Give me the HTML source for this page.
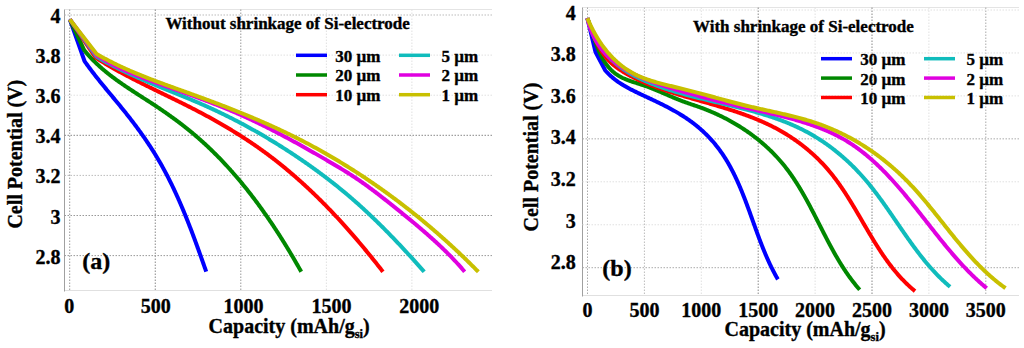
<!DOCTYPE html>
<html><head><meta charset="utf-8"><style>
html,body{margin:0;padding:0;background:#fff;width:1024px;height:348px;overflow:hidden}
svg{display:block}
text{font-family:"Liberation Serif",serif;font-weight:bold;fill:#000;stroke:#000;stroke-width:0.35px}
.tk{font-size:20px}
.ttl{font-size:17px}
.lg{font-size:17px}
.tag{font-size:24px}
.axt{font-size:20px}
</style></head><body>
<svg width="1024" height="348" viewBox="0 0 1024 348">
<rect width="1024" height="348" fill="#fff"/>
<line x1="64.5" y1="9.5" x2="492" y2="9.5" stroke="#e4e4e4" stroke-width="1"/>
<line x1="64.5" y1="290.5" x2="492" y2="290.5" stroke="#e0e0e0" stroke-width="1"/>
<line x1="64.5" y1="9.5" x2="64.5" y2="291.5" stroke="#a0a0a0" stroke-width="1"/>
<line x1="69.70" y1="9.5" x2="69.70" y2="290.5" stroke="#999" stroke-width="1" stroke-dasharray="1.5,1.5"/>
<line x1="155.25" y1="9.5" x2="155.25" y2="290.5" stroke="#888" stroke-width="1" stroke-dasharray="1.5,1.5"/>
<line x1="240.80" y1="9.5" x2="240.80" y2="290.5" stroke="#999" stroke-width="1" stroke-dasharray="1.5,1.5"/>
<line x1="326.35" y1="9.5" x2="326.35" y2="290.5" stroke="#e0e0e0" stroke-width="1" stroke-dasharray="1.5,1.5"/>
<line x1="411.90" y1="9.5" x2="411.90" y2="290.5" stroke="#e0e0e0" stroke-width="1" stroke-dasharray="1.5,1.5"/>
<line x1="64.5" y1="15.00" x2="492" y2="15.00" stroke="#bbb" stroke-width="1" stroke-dasharray="1.5,1.5"/>
<line x1="64.5" y1="55.10" x2="492" y2="55.10" stroke="#e0e0e0" stroke-width="1" stroke-dasharray="1.5,1.5"/>
<line x1="64.5" y1="95.20" x2="492" y2="95.20" stroke="#e0e0e0" stroke-width="1" stroke-dasharray="1.5,1.5"/>
<line x1="64.5" y1="135.30" x2="492" y2="135.30" stroke="#888" stroke-width="1" stroke-dasharray="1.5,1.5"/>
<line x1="64.5" y1="175.40" x2="492" y2="175.40" stroke="#bbb" stroke-width="1" stroke-dasharray="1.5,1.5"/>
<line x1="64.5" y1="215.50" x2="492" y2="215.50" stroke="#999" stroke-width="1" stroke-dasharray="1.5,1.5"/>
<line x1="64.5" y1="255.60" x2="492" y2="255.60" stroke="#999" stroke-width="1" stroke-dasharray="1.5,1.5"/>
<text x="60.4" y="22.50" class="tk" text-anchor="end">4</text>
<text x="60.4" y="62.73" class="tk" text-anchor="end">3.8</text>
<text x="60.4" y="102.96" class="tk" text-anchor="end">3.6</text>
<text x="60.4" y="143.19" class="tk" text-anchor="end">3.4</text>
<text x="60.4" y="183.42" class="tk" text-anchor="end">3.2</text>
<text x="60.4" y="223.65" class="tk" text-anchor="end">3</text>
<text x="60.4" y="263.88" class="tk" text-anchor="end">2.8</text>
<text x="69.25" y="313.2" class="tk" text-anchor="middle">0</text>
<text x="155.75" y="313.2" class="tk" text-anchor="middle">500</text>
<text x="243.60" y="313.2" class="tk" text-anchor="middle">1000</text>
<text x="331.40" y="313.2" class="tk" text-anchor="middle">1500</text>
<text x="419.20" y="313.2" class="tk" text-anchor="middle">2000</text>
<text x="165.4" y="28.8" class="ttl">Without shrinkage of Si-electrode</text>
<line x1="296" y1="55.3" x2="327" y2="55.3" stroke="#0000ff" stroke-width="3.5"/>
<line x1="296" y1="75.0" x2="327" y2="75.0" stroke="#008800" stroke-width="3.5"/>
<line x1="296" y1="94.69999999999999" x2="327" y2="94.69999999999999" stroke="#ff0000" stroke-width="3.5"/>
<line x1="399" y1="55.3" x2="430" y2="55.3" stroke="#10bcbc" stroke-width="3.5"/>
<line x1="399" y1="75.0" x2="430" y2="75.0" stroke="#e000e0" stroke-width="3.5"/>
<line x1="399" y1="94.69999999999999" x2="430" y2="94.69999999999999" stroke="#c8c000" stroke-width="3.5"/>
<text x="335.2" y="61.699999999999996" class="lg">30 µm</text>
<text x="335.2" y="81.4" class="lg">20 µm</text>
<text x="335.2" y="101.1" class="lg">10 µm</text>
<text x="441.4" y="61.699999999999996" class="lg">5 µm</text>
<text x="441.4" y="81.4" class="lg">2 µm</text>
<text x="441.4" y="101.1" class="lg">1 µm</text>
<path d="M69.80,19.40 L84.59,61.21 L85.16,62.03 L85.74,62.85 L86.32,63.66 L86.90,64.47 L87.49,65.28 L88.08,66.09 L88.67,66.90 L89.26,67.70 L89.86,68.50 L90.46,69.30 L91.06,70.10 L91.66,70.90 L92.27,71.70 L92.88,72.49 L93.49,73.28 L94.10,74.07 L94.71,74.86 L95.33,75.65 L95.94,76.44 L96.56,77.23 L97.18,78.01 L97.81,78.79 L98.43,79.57 L99.05,80.36 L99.68,81.14 L100.31,81.91 L100.94,82.69 L101.57,83.47 L102.20,84.24 L102.83,85.02 L103.46,85.79 L104.09,86.57 L104.73,87.34 L105.36,88.11 L106.00,88.89 L106.63,89.66 L107.27,90.43 L107.91,91.20 L108.55,91.97 L109.18,92.74 L109.82,93.51 L110.46,94.28 L111.10,95.05 L111.74,95.82 L112.38,96.59 L113.01,97.36 L113.65,98.13 L114.29,98.90 L114.93,99.67 L115.57,100.44 L116.21,101.21 L116.84,101.98 L117.48,102.75 L118.11,103.52 L118.75,104.29 L119.38,105.07 L120.02,105.84 L120.65,106.61 L121.28,107.39 L121.92,108.16 L122.55,108.94 L123.18,109.72 L123.80,110.50 L124.43,111.27 L125.06,112.05 L125.68,112.84 L126.30,113.62 L126.92,114.40 L127.54,115.19 L128.16,115.97 L128.78,116.76 L129.40,117.55 L130.01,118.34 L130.62,119.13 L131.23,119.92 L131.84,120.71 L132.45,121.51 L133.06,122.30 L133.66,123.10 L134.26,123.90 L134.87,124.69 L135.46,125.49 L136.06,126.30 L136.66,127.10 L137.25,127.90 L137.84,128.71 L138.44,129.52 L139.02,130.32 L139.61,131.13 L140.20,131.95 L140.78,132.76 L141.36,133.57 L141.94,134.39 L142.52,135.20 L143.09,136.02 L143.66,136.84 L144.24,137.66 L144.80,138.48 L145.37,139.31 L145.94,140.13 L146.50,140.96 L147.06,141.79 L147.62,142.62 L148.17,143.45 L148.73,144.28 L149.28,145.12 L149.83,145.95 L150.37,146.79 L150.92,147.63 L151.46,148.47 L152.00,149.31 L152.54,150.15 L153.07,151.00 L153.61,151.84 L154.14,152.69 L154.66,153.54 L155.19,154.39 L155.71,155.25 L156.23,156.10 L156.75,156.96 L157.26,157.81 L157.77,158.67 L158.28,159.53 L158.79,160.40 L159.29,161.26 L159.80,162.12 L160.29,162.99 L160.79,163.86 L161.28,164.73 L161.77,165.60 L162.26,166.47 L162.75,167.35 L163.23,168.22 L163.71,169.10 L164.19,169.98 L164.66,170.86 L165.13,171.74 L165.60,172.62 L166.07,173.51 L166.54,174.39 L167.00,175.28 L167.46,176.17 L167.92,177.06 L168.37,177.95 L168.83,178.84 L169.28,179.73 L169.73,180.62 L170.17,181.52 L170.62,182.41 L171.06,183.31 L171.50,184.21 L171.94,185.11 L172.37,186.01 L172.81,186.91 L173.24,187.81 L173.67,188.72 L174.09,189.62 L174.52,190.52 L174.94,191.43 L175.36,192.34 L175.78,193.25 L176.20,194.15 L176.62,195.06 L177.03,195.97 L177.44,196.89 L177.85,197.80 L178.26,198.71 L178.66,199.63 L179.07,200.54 L179.47,201.46 L179.87,202.37 L180.27,203.29 L180.67,204.21 L181.06,205.13 L181.45,206.04 L181.85,206.96 L182.24,207.89 L182.63,208.81 L183.01,209.73 L183.40,210.65 L183.78,211.57 L184.17,212.50 L184.55,213.42 L184.93,214.35 L185.30,215.27 L185.68,216.20 L186.06,217.13 L186.43,218.06 L186.80,218.98 L187.17,219.91 L187.54,220.84 L187.91,221.77 L188.28,222.70 L188.64,223.63 L189.01,224.56 L189.37,225.49 L189.74,226.43 L190.10,227.36 L190.46,228.29 L190.82,229.22 L191.17,230.16 L191.53,231.09 L191.89,232.03 L192.24,232.96 L192.59,233.90 L192.95,234.83 L193.30,235.77 L193.65,236.71 L194.00,237.64 L194.35,238.58 L194.70,239.52 L195.04,240.46 L195.39,241.39 L195.73,242.33 L196.08,243.27 L196.42,244.21 L196.77,245.15 L197.11,246.09 L197.45,247.03 L197.79,247.97 L198.13,248.91 L198.47,249.85 L198.81,250.79 L199.15,251.73 L199.49,252.67 L199.83,253.61 L200.16,254.55 L200.50,255.50 L200.84,256.44 L201.17,257.38 L201.51,258.32 L201.84,259.26 L202.18,260.21 L202.51,261.15 L202.85,262.09 L203.18,263.03 L203.51,263.98 L203.85,264.92 L204.18,265.86 L204.51,266.80 L204.85,267.75 L205.18,268.69 L205.51,269.63 L205.84,270.58 L206.18,271.52 L206.24,271.70" fill="none" stroke="#0000ff" stroke-width="4.0" stroke-linejoin="round" stroke-linecap="butt"/>
<path d="M69.80,19.40 L84.29,50.32 L84.92,51.09 L85.55,51.87 L86.19,52.63 L86.84,53.39 L87.49,54.15 L88.15,54.90 L88.82,55.65 L89.49,56.39 L90.17,57.13 L90.85,57.86 L91.54,58.58 L92.23,59.31 L92.93,60.02 L93.63,60.73 L94.34,61.44 L95.05,62.14 L95.77,62.84 L96.49,63.53 L97.22,64.21 L97.95,64.90 L98.68,65.57 L99.42,66.25 L100.17,66.91 L100.92,67.58 L101.67,68.24 L102.42,68.89 L103.18,69.54 L103.95,70.19 L104.71,70.83 L105.48,71.47 L106.26,72.10 L107.03,72.73 L107.81,73.36 L108.60,73.98 L109.38,74.60 L110.17,75.21 L110.96,75.82 L111.76,76.43 L112.56,77.03 L113.36,77.64 L114.16,78.23 L114.96,78.83 L115.77,79.42 L116.58,80.01 L117.39,80.59 L118.20,81.17 L119.01,81.75 L119.83,82.33 L120.65,82.91 L121.47,83.48 L122.29,84.05 L123.12,84.61 L123.94,85.18 L124.77,85.74 L125.59,86.30 L126.42,86.86 L127.25,87.42 L128.08,87.98 L128.92,88.53 L129.75,89.08 L130.59,89.63 L131.42,90.18 L132.26,90.73 L133.09,91.28 L133.93,91.83 L134.77,92.37 L135.61,92.92 L136.45,93.46 L137.29,94.00 L138.13,94.55 L138.97,95.09 L139.81,95.63 L140.65,96.17 L141.49,96.71 L142.33,97.25 L143.17,97.80 L144.01,98.34 L144.85,98.88 L145.69,99.42 L146.53,99.96 L147.37,100.51 L148.21,101.05 L149.05,101.59 L149.89,102.14 L150.73,102.68 L151.57,103.23 L152.40,103.78 L153.24,104.32 L154.07,104.87 L154.91,105.43 L155.74,105.98 L156.58,106.53 L157.41,107.09 L158.24,107.64 L159.07,108.20 L159.90,108.76 L160.72,109.32 L161.55,109.89 L162.38,110.45 L163.20,111.02 L164.02,111.58 L164.85,112.15 L165.67,112.72 L166.49,113.30 L167.30,113.87 L168.12,114.45 L168.94,115.03 L169.75,115.60 L170.57,116.19 L171.38,116.77 L172.19,117.35 L173.00,117.94 L173.81,118.53 L174.62,119.12 L175.42,119.71 L176.22,120.31 L177.03,120.90 L177.83,121.50 L178.63,122.10 L179.43,122.71 L180.22,123.31 L181.02,123.92 L181.81,124.53 L182.60,125.14 L183.39,125.75 L184.18,126.36 L184.97,126.98 L185.75,127.60 L186.54,128.22 L187.32,128.85 L188.10,129.47 L188.88,130.10 L189.65,130.73 L190.43,131.36 L191.20,132.00 L191.97,132.64 L192.74,133.28 L193.50,133.92 L194.27,134.56 L195.03,135.21 L195.79,135.86 L196.55,136.51 L197.31,137.16 L198.06,137.82 L198.81,138.48 L199.57,139.14 L200.31,139.80 L201.06,140.47 L201.81,141.14 L202.55,141.80 L203.29,142.48 L204.03,143.15 L204.76,143.83 L205.50,144.50 L206.23,145.18 L206.96,145.87 L207.69,146.55 L208.42,147.24 L209.15,147.93 L209.87,148.62 L210.59,149.31 L211.31,150.00 L212.03,150.70 L212.74,151.40 L213.46,152.10 L214.17,152.80 L214.88,153.51 L215.59,154.21 L216.29,154.92 L217.00,155.63 L217.70,156.34 L218.40,157.06 L219.10,157.77 L219.79,158.49 L220.49,159.21 L221.18,159.93 L221.87,160.65 L222.56,161.38 L223.25,162.11 L223.93,162.83 L224.62,163.56 L225.30,164.30 L225.98,165.03 L226.66,165.76 L227.33,166.50 L228.01,167.24 L228.68,167.98 L229.35,168.72 L230.02,169.46 L230.68,170.21 L231.35,170.96 L232.01,171.70 L232.67,172.45 L233.33,173.21 L233.99,173.96 L234.65,174.71 L235.30,175.47 L235.96,176.23 L236.61,176.99 L237.26,177.75 L237.90,178.51 L238.55,179.27 L239.19,180.04 L239.83,180.80 L240.48,181.57 L241.11,182.34 L241.75,183.11 L242.39,183.89 L243.02,184.66 L243.65,185.43 L244.28,186.21 L244.91,186.99 L245.54,187.77 L246.16,188.55 L246.79,189.33 L247.41,190.11 L248.03,190.90 L248.65,191.68 L249.26,192.47 L249.88,193.26 L250.49,194.05 L251.10,194.84 L251.71,195.63 L252.32,196.42 L252.93,197.22 L253.54,198.01 L254.14,198.81 L254.74,199.61 L255.34,200.41 L255.94,201.21 L256.54,202.01 L257.14,202.81 L257.73,203.62 L258.32,204.42 L258.91,205.23 L259.50,206.04 L260.09,206.85 L260.68,207.66 L261.26,208.47 L261.85,209.28 L262.43,210.09 L263.01,210.91 L263.59,211.72 L264.17,212.54 L264.74,213.35 L265.32,214.17 L265.89,214.99 L266.47,215.81 L267.04,216.63 L267.60,217.46 L268.17,218.28 L268.74,219.10 L269.30,219.93 L269.87,220.76 L270.43,221.58 L270.99,222.41 L271.55,223.24 L272.10,224.07 L272.66,224.90 L273.22,225.73 L273.77,226.57 L274.32,227.40 L274.87,228.23 L275.42,229.07 L275.97,229.91 L276.52,230.74 L277.06,231.58 L277.61,232.42 L278.15,233.26 L278.69,234.10 L279.23,234.94 L279.77,235.79 L280.31,236.63 L280.84,237.47 L281.38,238.32 L281.91,239.16 L282.44,240.01 L282.97,240.86 L283.50,241.71 L284.03,242.56 L284.56,243.41 L285.09,244.26 L285.61,245.11 L286.13,245.96 L286.66,246.81 L287.18,247.67 L287.70,248.52 L288.22,249.37 L288.73,250.23 L289.25,251.09 L289.76,251.94 L290.28,252.80 L290.79,253.66 L291.30,254.52 L291.81,255.38 L292.32,256.24 L292.83,257.10 L293.34,257.96 L293.84,258.83 L294.35,259.69 L294.85,260.55 L295.35,261.42 L295.85,262.28 L296.35,263.15 L296.85,264.02 L297.35,264.88 L297.85,265.75 L298.34,266.62 L298.84,267.49 L299.33,268.36 L299.83,269.23 L300.32,270.10 L300.81,270.97 L301.21,271.68" fill="none" stroke="#008800" stroke-width="4.0" stroke-linejoin="round" stroke-linecap="butt"/>
<path d="M69.80,19.40 L95.60,57.61 L96.44,58.15 L97.28,58.69 L98.13,59.23 L98.97,59.76 L99.82,60.29 L100.67,60.82 L101.52,61.34 L102.37,61.87 L103.23,62.39 L104.08,62.91 L104.94,63.42 L105.80,63.94 L106.66,64.45 L107.52,64.96 L108.38,65.46 L109.24,65.97 L110.10,66.47 L110.97,66.97 L111.84,67.47 L112.70,67.97 L113.57,68.46 L114.44,68.96 L115.32,69.45 L116.19,69.94 L117.06,70.42 L117.94,70.91 L118.81,71.39 L119.69,71.87 L120.56,72.35 L121.44,72.83 L122.32,73.31 L123.20,73.78 L124.08,74.26 L124.96,74.73 L125.85,75.20 L126.73,75.67 L127.61,76.13 L128.50,76.60 L129.39,77.06 L130.27,77.53 L131.16,77.99 L132.05,78.45 L132.93,78.91 L133.82,79.37 L134.71,79.82 L135.60,80.28 L136.49,80.73 L137.39,81.18 L138.28,81.64 L139.17,82.09 L140.06,82.54 L140.96,82.99 L141.85,83.44 L142.74,83.88 L143.64,84.33 L144.53,84.78 L145.43,85.22 L146.33,85.67 L147.22,86.11 L148.12,86.55 L149.02,86.99 L149.91,87.44 L150.81,87.88 L151.71,88.32 L152.61,88.76 L153.50,89.20 L154.40,89.64 L155.30,90.08 L156.20,90.51 L157.10,90.95 L158.00,91.39 L158.90,91.83 L159.80,92.27 L160.69,92.70 L161.59,93.14 L162.49,93.58 L163.39,94.02 L164.29,94.45 L165.19,94.89 L166.09,95.33 L166.99,95.76 L167.89,96.20 L168.79,96.64 L169.69,97.08 L170.59,97.52 L171.48,97.96 L172.38,98.39 L173.28,98.83 L174.18,99.27 L175.08,99.71 L175.98,100.15 L176.87,100.60 L177.77,101.04 L178.67,101.48 L179.56,101.92 L180.46,102.37 L181.36,102.81 L182.25,103.26 L183.15,103.70 L184.04,104.15 L184.93,104.60 L185.83,105.04 L186.72,105.49 L187.61,105.94 L188.51,106.39 L189.40,106.85 L190.29,107.30 L191.18,107.75 L192.07,108.21 L192.96,108.67 L193.85,109.13 L194.74,109.58 L195.63,110.04 L196.51,110.51 L197.40,110.97 L198.29,111.43 L199.17,111.90 L200.05,112.37 L200.94,112.83 L201.82,113.30 L202.70,113.77 L203.59,114.24 L204.47,114.72 L205.35,115.19 L206.23,115.67 L207.11,116.14 L207.98,116.62 L208.86,117.10 L209.74,117.58 L210.61,118.07 L211.49,118.55 L212.36,119.04 L213.24,119.52 L214.11,120.01 L214.98,120.50 L215.85,120.99 L216.72,121.48 L217.59,121.98 L218.46,122.47 L219.33,122.97 L220.20,123.47 L221.06,123.97 L221.93,124.47 L222.79,124.97 L223.66,125.47 L224.52,125.98 L225.38,126.49 L226.24,127.00 L227.10,127.51 L227.96,128.02 L228.82,128.53 L229.68,129.05 L230.53,129.56 L231.39,130.08 L232.24,130.60 L233.10,131.12 L233.95,131.65 L234.80,132.17 L235.65,132.70 L236.50,133.22 L237.35,133.75 L238.19,134.29 L239.04,134.82 L239.89,135.35 L240.73,135.89 L241.57,136.43 L242.41,136.97 L243.25,137.51 L244.09,138.05 L244.93,138.60 L245.77,139.14 L246.61,139.69 L247.44,140.24 L248.28,140.79 L249.11,141.35 L249.94,141.90 L250.77,142.46 L251.60,143.02 L252.43,143.58 L253.25,144.14 L254.08,144.71 L254.90,145.27 L255.73,145.84 L256.55,146.41 L257.37,146.98 L258.19,147.56 L259.01,148.13 L259.82,148.71 L260.64,149.29 L261.45,149.87 L262.26,150.45 L263.07,151.04 L263.88,151.63 L264.69,152.21 L265.50,152.81 L266.30,153.40 L267.11,153.99 L267.91,154.59 L268.71,155.19 L269.51,155.79 L270.31,156.39 L271.11,156.99 L271.90,157.60 L272.70,158.21 L273.49,158.82 L274.28,159.43 L275.07,160.04 L275.86,160.66 L276.65,161.27 L277.43,161.89 L278.22,162.51 L279.00,163.13 L279.78,163.76 L280.56,164.38 L281.34,165.01 L282.12,165.64 L282.90,166.27 L283.67,166.90 L284.44,167.54 L285.22,168.17 L285.99,168.81 L286.75,169.45 L287.52,170.09 L288.29,170.73 L289.05,171.37 L289.82,172.02 L290.58,172.67 L291.34,173.31 L292.10,173.97 L292.86,174.62 L293.62,175.27 L294.37,175.93 L295.13,176.58 L295.88,177.24 L296.63,177.90 L297.38,178.56 L298.13,179.22 L298.88,179.89 L299.62,180.55 L300.37,181.22 L301.11,181.89 L301.86,182.56 L302.60,183.23 L303.34,183.90 L304.07,184.58 L304.81,185.25 L305.55,185.93 L306.28,186.61 L307.01,187.29 L307.75,187.97 L308.48,188.65 L309.21,189.34 L309.93,190.02 L310.66,190.71 L311.39,191.40 L312.11,192.09 L312.83,192.78 L313.56,193.47 L314.28,194.17 L314.99,194.86 L315.71,195.56 L316.43,196.25 L317.14,196.95 L317.86,197.65 L318.57,198.35 L319.28,199.06 L319.99,199.76 L320.70,200.47 L321.41,201.17 L322.12,201.88 L322.82,202.59 L323.53,203.30 L324.23,204.01 L324.93,204.72 L325.63,205.43 L326.33,206.15 L327.03,206.87 L327.73,207.58 L328.42,208.30 L329.12,209.02 L329.81,209.74 L330.50,210.46 L331.20,211.18 L331.89,211.91 L332.57,212.63 L333.26,213.36 L333.95,214.09 L334.63,214.81 L335.32,215.54 L336.00,216.27 L336.68,217.00 L337.36,217.74 L338.04,218.47 L338.72,219.20 L339.40,219.94 L340.08,220.68 L340.75,221.41 L341.43,222.15 L342.10,222.89 L342.77,223.63 L343.44,224.37 L344.11,225.12 L344.78,225.86 L345.45,226.60 L346.12,227.35 L346.78,228.10 L347.45,228.84 L348.11,229.59 L348.77,230.34 L349.43,231.09 L350.09,231.84 L350.75,232.59 L351.41,233.35 L352.07,234.10 L352.73,234.85 L353.38,235.61 L354.04,236.37 L354.69,237.12 L355.34,237.88 L355.99,238.64 L356.64,239.40 L357.29,240.16 L357.94,240.92 L358.59,241.68 L359.23,242.45 L359.88,243.21 L360.52,243.97 L361.17,244.74 L361.81,245.51 L362.45,246.27 L363.09,247.04 L363.73,247.81 L364.37,248.58 L365.01,249.35 L365.65,250.12 L366.28,250.89 L366.92,251.66 L367.55,252.44 L368.18,253.21 L368.82,253.99 L369.45,254.76 L370.08,255.54 L370.71,256.31 L371.34,257.09 L371.97,257.87 L372.59,258.65 L373.22,259.43 L373.84,260.21 L374.47,260.99 L375.09,261.77 L375.72,262.55 L376.34,263.34 L376.96,264.12 L377.58,264.90 L378.20,265.69 L378.82,266.47 L379.44,267.26 L380.05,268.05 L380.67,268.84 L381.28,269.62 L381.90,270.41 L382.51,271.20 L382.97,271.80" fill="none" stroke="#ff0000" stroke-width="4.0" stroke-linejoin="round" stroke-linecap="butt"/>
<path d="M69.80,19.40 L96.20,56.40 L97.06,56.92 L97.91,57.43 L98.77,57.94 L99.64,58.45 L100.50,58.95 L101.37,59.45 L102.23,59.95 L103.10,60.45 L103.97,60.94 L104.84,61.43 L105.72,61.92 L106.59,62.40 L107.47,62.88 L108.35,63.36 L109.23,63.83 L110.11,64.30 L110.99,64.77 L111.88,65.24 L112.76,65.70 L113.65,66.17 L114.54,66.62 L115.43,67.08 L116.32,67.53 L117.21,67.99 L118.11,68.43 L119.00,68.88 L119.90,69.32 L120.79,69.77 L121.69,70.20 L122.59,70.64 L123.49,71.07 L124.39,71.51 L125.30,71.94 L126.20,72.36 L127.11,72.79 L128.01,73.21 L128.92,73.63 L129.83,74.05 L130.74,74.47 L131.65,74.88 L132.56,75.30 L133.47,75.71 L134.38,76.12 L135.29,76.53 L136.21,76.93 L137.12,77.34 L138.04,77.74 L138.95,78.14 L139.87,78.54 L140.79,78.94 L141.71,79.33 L142.63,79.73 L143.54,80.12 L144.46,80.51 L145.38,80.91 L146.31,81.30 L147.23,81.68 L148.15,82.07 L149.07,82.46 L149.99,82.84 L150.92,83.23 L151.84,83.61 L152.76,83.99 L153.69,84.38 L154.61,84.76 L155.54,85.14 L156.46,85.52 L157.39,85.90 L158.31,86.27 L159.24,86.65 L160.17,87.03 L161.09,87.41 L162.02,87.78 L162.95,88.16 L163.87,88.54 L164.80,88.91 L165.73,89.29 L166.65,89.66 L167.58,90.04 L168.51,90.41 L169.43,90.79 L170.36,91.16 L171.29,91.54 L172.21,91.91 L173.14,92.29 L174.07,92.67 L174.99,93.04 L175.92,93.42 L176.85,93.79 L177.77,94.17 L178.70,94.55 L179.63,94.93 L180.55,95.30 L181.48,95.68 L182.40,96.06 L183.33,96.44 L184.25,96.82 L185.18,97.20 L186.10,97.59 L187.02,97.97 L187.95,98.35 L188.87,98.74 L189.79,99.12 L190.72,99.51 L191.64,99.90 L192.56,100.28 L193.48,100.67 L194.40,101.06 L195.32,101.46 L196.24,101.85 L197.16,102.24 L198.08,102.64 L199.00,103.03 L199.91,103.43 L200.83,103.83 L201.75,104.23 L202.66,104.64 L203.58,105.04 L204.49,105.44 L205.40,105.85 L206.32,106.26 L207.23,106.67 L208.14,107.08 L209.05,107.50 L209.96,107.91 L210.87,108.33 L211.78,108.75 L212.69,109.17 L213.59,109.59 L214.50,110.01 L215.40,110.43 L216.31,110.86 L217.21,111.29 L218.12,111.72 L219.02,112.15 L219.92,112.58 L220.82,113.01 L221.72,113.45 L222.62,113.89 L223.52,114.32 L224.42,114.76 L225.31,115.21 L226.21,115.65 L227.11,116.09 L228.00,116.54 L228.90,116.99 L229.79,117.44 L230.68,117.89 L231.57,118.34 L232.47,118.79 L233.36,119.25 L234.25,119.70 L235.13,120.16 L236.02,120.62 L236.91,121.08 L237.80,121.55 L238.68,122.01 L239.57,122.48 L240.45,122.94 L241.34,123.41 L242.22,123.88 L243.10,124.35 L243.98,124.83 L244.86,125.30 L245.74,125.78 L246.62,126.25 L247.50,126.73 L248.37,127.21 L249.25,127.69 L250.13,128.18 L251.00,128.66 L251.88,129.15 L252.75,129.63 L253.62,130.12 L254.49,130.61 L255.36,131.11 L256.23,131.60 L257.10,132.09 L257.97,132.59 L258.84,133.09 L259.71,133.58 L260.57,134.08 L261.44,134.59 L262.30,135.09 L263.16,135.59 L264.03,136.10 L264.89,136.61 L265.75,137.11 L266.61,137.62 L267.47,138.14 L268.33,138.65 L269.19,139.16 L270.04,139.68 L270.90,140.19 L271.75,140.71 L272.61,141.23 L273.46,141.75 L274.32,142.27 L275.17,142.80 L276.02,143.32 L276.87,143.85 L277.72,144.38 L278.57,144.90 L279.42,145.43 L280.26,145.97 L281.11,146.50 L281.96,147.03 L282.80,147.57 L283.64,148.10 L284.49,148.64 L285.33,149.18 L286.17,149.72 L287.01,150.26 L287.85,150.81 L288.69,151.35 L289.53,151.90 L290.36,152.44 L291.20,152.99 L292.04,153.54 L292.87,154.09 L293.70,154.64 L294.54,155.20 L295.37,155.75 L296.20,156.31 L297.03,156.87 L297.86,157.42 L298.69,157.98 L299.52,158.54 L300.34,159.11 L301.17,159.67 L302.00,160.24 L302.82,160.80 L303.64,161.37 L304.47,161.94 L305.29,162.51 L306.11,163.08 L306.93,163.65 L307.75,164.23 L308.56,164.80 L309.38,165.38 L310.20,165.96 L311.01,166.54 L311.83,167.12 L312.64,167.70 L313.45,168.28 L314.26,168.87 L315.07,169.46 L315.88,170.04 L316.69,170.63 L317.50,171.22 L318.30,171.81 L319.11,172.41 L319.91,173.00 L320.71,173.60 L321.52,174.19 L322.32,174.79 L323.12,175.39 L323.92,175.99 L324.71,176.60 L325.51,177.20 L326.31,177.81 L327.10,178.41 L327.90,179.02 L328.69,179.63 L329.48,180.24 L330.27,180.86 L331.06,181.47 L331.85,182.09 L332.63,182.70 L333.42,183.32 L334.20,183.94 L334.99,184.56 L335.77,185.18 L336.55,185.81 L337.33,186.43 L338.11,187.06 L338.89,187.69 L339.67,188.32 L340.44,188.95 L341.22,189.58 L341.99,190.22 L342.76,190.85 L343.53,191.49 L344.30,192.13 L345.07,192.77 L345.84,193.41 L346.60,194.05 L347.37,194.70 L348.13,195.34 L348.89,195.99 L349.65,196.64 L350.41,197.29 L351.17,197.94 L351.93,198.59 L352.69,199.25 L353.44,199.91 L354.19,200.56 L354.95,201.22 L355.70,201.88 L356.45,202.54 L357.19,203.21 L357.94,203.87 L358.69,204.54 L359.43,205.21 L360.17,205.88 L360.92,206.55 L361.66,207.22 L362.40,207.89 L363.13,208.57 L363.87,209.24 L364.61,209.92 L365.34,210.60 L366.07,211.28 L366.81,211.96 L367.54,212.64 L368.27,213.33 L368.99,214.01 L369.72,214.70 L370.45,215.39 L371.17,216.08 L371.90,216.77 L372.62,217.46 L373.34,218.15 L374.06,218.84 L374.78,219.54 L375.50,220.23 L376.22,220.93 L376.93,221.63 L377.65,222.33 L378.36,223.03 L379.08,223.73 L379.79,224.43 L380.50,225.13 L381.21,225.84 L381.92,226.54 L382.63,227.25 L383.33,227.96 L384.04,228.66 L384.74,229.37 L385.45,230.08 L386.15,230.79 L386.85,231.51 L387.55,232.22 L388.25,232.93 L388.95,233.65 L389.65,234.36 L390.35,235.08 L391.04,235.80 L391.74,236.52 L392.43,237.24 L393.13,237.96 L393.82,238.68 L394.51,239.40 L395.20,240.12 L395.89,240.85 L396.58,241.57 L397.27,242.30 L397.96,243.02 L398.65,243.75 L399.33,244.48 L400.02,245.20 L400.70,245.93 L401.39,246.66 L402.07,247.39 L402.75,248.12 L403.44,248.85 L404.12,249.59 L404.80,250.32 L405.48,251.05 L406.16,251.79 L406.83,252.52 L407.51,253.26 L408.19,253.99 L408.86,254.73 L409.54,255.47 L410.21,256.21 L410.89,256.95 L411.56,257.69 L412.23,258.42 L412.91,259.17 L413.58,259.91 L414.25,260.65 L414.92,261.39 L415.59,262.13 L416.26,262.87 L416.93,263.62 L417.60,264.36 L418.26,265.11 L418.93,265.85 L419.60,266.60 L420.26,267.34 L420.93,268.09 L421.59,268.84 L422.26,269.58 L422.92,270.33 L423.59,271.08 L424.21,271.78" fill="none" stroke="#10bcbc" stroke-width="4.0" stroke-linejoin="round" stroke-linecap="butt"/>
<path d="M69.80,19.40 L96.50,55.20 L97.34,55.74 L98.19,56.27 L99.04,56.79 L99.89,57.32 L100.75,57.84 L101.61,58.35 L102.47,58.86 L103.33,59.36 L104.20,59.86 L105.07,60.36 L105.94,60.85 L106.81,61.34 L107.69,61.82 L108.56,62.30 L109.44,62.77 L110.33,63.24 L111.21,63.71 L112.10,64.17 L112.99,64.63 L113.88,65.08 L114.77,65.53 L115.67,65.98 L116.56,66.42 L117.46,66.86 L118.36,67.29 L119.26,67.73 L120.17,68.15 L121.07,68.58 L121.98,69.00 L122.89,69.42 L123.80,69.83 L124.71,70.24 L125.62,70.65 L126.54,71.05 L127.46,71.45 L128.37,71.85 L129.29,72.25 L130.21,72.64 L131.13,73.03 L132.05,73.42 L132.98,73.80 L133.90,74.18 L134.83,74.56 L135.75,74.94 L136.68,75.31 L137.61,75.69 L138.54,76.05 L139.47,76.42 L140.40,76.79 L141.33,77.15 L142.26,77.51 L143.20,77.87 L144.13,78.23 L145.06,78.58 L146.00,78.94 L146.94,79.29 L147.87,79.64 L148.81,79.99 L149.75,80.34 L150.68,80.69 L151.62,81.03 L152.56,81.38 L153.50,81.72 L154.44,82.06 L155.38,82.40 L156.32,82.74 L157.26,83.08 L158.20,83.42 L159.14,83.76 L160.09,84.10 L161.03,84.43 L161.97,84.77 L162.91,85.10 L163.85,85.44 L164.79,85.78 L165.74,86.11 L166.68,86.45 L167.62,86.78 L168.56,87.12 L169.51,87.45 L170.45,87.79 L171.39,88.12 L172.33,88.46 L173.27,88.79 L174.22,89.13 L175.16,89.46 L176.10,89.80 L177.04,90.13 L177.98,90.47 L178.93,90.81 L179.87,91.14 L180.81,91.48 L181.75,91.82 L182.69,92.16 L183.63,92.49 L184.57,92.83 L185.51,93.17 L186.46,93.51 L187.40,93.85 L188.34,94.19 L189.28,94.53 L190.22,94.87 L191.16,95.21 L192.10,95.55 L193.04,95.90 L193.97,96.24 L194.91,96.59 L195.85,96.93 L196.79,97.28 L197.73,97.62 L198.67,97.97 L199.60,98.32 L200.54,98.67 L201.48,99.02 L202.41,99.37 L203.35,99.72 L204.29,100.07 L205.22,100.42 L206.16,100.78 L207.09,101.13 L208.03,101.49 L208.96,101.85 L209.89,102.21 L210.83,102.57 L211.76,102.93 L212.69,103.29 L213.62,103.65 L214.55,104.01 L215.49,104.38 L216.42,104.75 L217.35,105.11 L218.28,105.48 L219.20,105.85 L220.13,106.23 L221.06,106.60 L221.99,106.97 L222.91,107.35 L223.84,107.73 L224.77,108.11 L225.69,108.49 L226.61,108.87 L227.54,109.25 L228.46,109.64 L229.38,110.02 L230.30,110.41 L231.23,110.80 L232.15,111.19 L233.07,111.59 L233.98,111.98 L234.90,112.38 L235.82,112.78 L236.74,113.18 L237.65,113.58 L238.57,113.98 L239.48,114.38 L240.40,114.79 L241.31,115.20 L242.22,115.61 L243.13,116.02 L244.04,116.43 L244.95,116.85 L245.86,117.26 L246.77,117.68 L247.68,118.10 L248.59,118.52 L249.49,118.94 L250.40,119.37 L251.30,119.79 L252.21,120.22 L253.11,120.65 L254.02,121.07 L254.92,121.51 L255.82,121.94 L256.72,122.37 L257.62,122.81 L258.52,123.24 L259.42,123.68 L260.32,124.12 L261.22,124.56 L262.11,125.00 L263.01,125.44 L263.91,125.89 L264.80,126.33 L265.70,126.78 L266.59,127.23 L267.48,127.68 L268.38,128.13 L269.27,128.58 L270.16,129.03 L271.05,129.48 L271.94,129.94 L272.83,130.39 L273.72,130.85 L274.61,131.31 L275.50,131.77 L276.39,132.23 L277.27,132.69 L278.16,133.15 L279.05,133.62 L279.93,134.08 L280.82,134.55 L281.70,135.01 L282.59,135.48 L283.47,135.95 L284.35,136.42 L285.23,136.89 L286.12,137.36 L287.00,137.83 L287.88,138.31 L288.76,138.78 L289.64,139.26 L290.52,139.73 L291.40,140.21 L292.28,140.69 L293.15,141.17 L294.03,141.65 L294.91,142.13 L295.78,142.61 L296.66,143.09 L297.54,143.57 L298.41,144.06 L299.29,144.54 L300.16,145.03 L301.03,145.52 L301.91,146.00 L302.78,146.49 L303.65,146.98 L304.52,147.47 L305.40,147.96 L306.27,148.45 L307.14,148.94 L308.01,149.43 L308.88,149.92 L309.75,150.42 L310.62,150.91 L311.49,151.40 L312.36,151.90 L313.23,152.40 L314.09,152.89 L314.96,153.39 L315.83,153.89 L316.70,154.38 L317.56,154.88 L318.43,155.38 L319.30,155.88 L320.16,156.38 L321.03,156.88 L321.89,157.38 L322.76,157.89 L323.62,158.39 L324.49,158.89 L325.35,159.39 L326.21,159.90 L327.08,160.40 L327.94,160.91 L328.81,161.41 L329.67,161.92 L330.53,162.42 L331.39,162.93 L332.25,163.44 L333.12,163.95 L333.98,164.45 L334.84,164.97 L335.70,165.48 L336.55,165.99 L337.41,166.50 L338.27,167.02 L339.13,167.53 L339.98,168.05 L340.84,168.57 L341.69,169.09 L342.54,169.61 L343.40,170.13 L344.25,170.66 L345.10,171.18 L345.95,171.71 L346.80,172.24 L347.64,172.78 L348.49,173.31 L349.33,173.85 L350.17,174.38 L351.02,174.92 L351.86,175.47 L352.69,176.01 L353.53,176.56 L354.37,177.11 L355.20,177.66 L356.03,178.21 L356.86,178.77 L357.69,179.33 L358.52,179.89 L359.34,180.46 L360.17,181.02 L360.99,181.59 L361.81,182.17 L362.63,182.74 L363.45,183.32 L364.26,183.90 L365.07,184.48 L365.89,185.06 L366.70,185.65 L367.51,186.24 L368.31,186.82 L369.12,187.42 L369.93,188.01 L370.73,188.60 L371.53,189.20 L372.33,189.80 L373.13,190.40 L373.93,191.00 L374.73,191.60 L375.53,192.21 L376.32,192.82 L377.12,193.42 L377.91,194.03 L378.70,194.64 L379.49,195.25 L380.28,195.87 L381.07,196.48 L381.86,197.09 L382.65,197.71 L383.44,198.33 L384.22,198.94 L385.01,199.56 L385.79,200.18 L386.58,200.80 L387.36,201.42 L388.15,202.04 L388.93,202.67 L389.71,203.29 L390.49,203.91 L391.27,204.54 L392.05,205.16 L392.84,205.79 L393.62,206.41 L394.40,207.04 L395.18,207.66 L395.96,208.29 L396.74,208.91 L397.52,209.54 L398.29,210.17 L399.07,210.80 L399.85,211.42 L400.63,212.05 L401.41,212.68 L402.19,213.31 L402.96,213.94 L403.74,214.57 L404.52,215.20 L405.29,215.83 L406.07,216.46 L406.84,217.09 L407.62,217.73 L408.39,218.36 L409.16,218.99 L409.94,219.63 L410.71,220.26 L411.48,220.90 L412.25,221.54 L413.02,222.18 L413.79,222.81 L414.56,223.45 L415.32,224.10 L416.09,224.74 L416.86,225.38 L417.62,226.02 L418.39,226.67 L419.15,227.31 L419.91,227.96 L420.68,228.61 L421.44,229.26 L422.20,229.91 L422.95,230.56 L423.71,231.21 L424.47,231.87 L425.22,232.52 L425.98,233.18 L426.73,233.83 L427.48,234.49 L428.24,235.15 L428.98,235.82 L429.73,236.48 L430.48,237.14 L431.23,237.81 L431.97,238.48 L432.71,239.15 L433.46,239.82 L434.20,240.49 L434.93,241.16 L435.67,241.84 L436.41,242.52 L437.14,243.19 L437.88,243.88 L438.61,244.56 L439.34,245.24 L440.06,245.93 L440.79,246.61 L441.51,247.30 L442.24,248.00 L442.96,248.69 L443.68,249.38 L444.39,250.08 L445.11,250.78 L445.82,251.48 L446.53,252.18 L447.24,252.89 L447.95,253.59 L448.66,254.30 L449.36,255.01 L450.06,255.73 L450.76,256.44 L451.46,257.16 L452.15,257.88 L452.84,258.60 L453.53,259.32 L454.22,260.05 L454.91,260.78 L455.59,261.51 L456.27,262.24 L456.95,262.98 L457.62,263.72 L458.29,264.46 L458.96,265.20 L459.63,265.94 L460.29,266.69 L460.96,267.44 L461.62,268.19 L462.27,268.95 L462.93,269.70 L463.58,270.46 L464.22,271.23 L464.70,271.79" fill="none" stroke="#e000e0" stroke-width="4.0" stroke-linejoin="round" stroke-linecap="butt"/>
<path d="M69.80,19.40 L96.60,54.01 L97.46,54.51 L98.33,55.01 L99.20,55.50 L100.07,55.99 L100.95,56.48 L101.82,56.97 L102.70,57.45 L103.58,57.93 L104.46,58.40 L105.34,58.87 L106.22,59.34 L107.10,59.81 L107.99,60.27 L108.88,60.73 L109.77,61.19 L110.66,61.64 L111.55,62.10 L112.44,62.54 L113.34,62.99 L114.24,63.43 L115.13,63.87 L116.03,64.31 L116.93,64.75 L117.83,65.18 L118.74,65.61 L119.64,66.04 L120.55,66.46 L121.45,66.88 L122.36,67.30 L123.27,67.72 L124.18,68.14 L125.09,68.55 L126.00,68.96 L126.92,69.37 L127.83,69.77 L128.75,70.17 L129.66,70.58 L130.58,70.97 L131.50,71.37 L132.42,71.76 L133.34,72.16 L134.26,72.55 L135.18,72.94 L136.10,73.32 L137.02,73.71 L137.95,74.09 L138.87,74.47 L139.80,74.85 L140.72,75.22 L141.65,75.60 L142.58,75.97 L143.51,76.34 L144.44,76.71 L145.37,77.08 L146.30,77.45 L147.23,77.82 L148.16,78.18 L149.09,78.54 L150.02,78.90 L150.96,79.26 L151.89,79.62 L152.82,79.98 L153.76,80.33 L154.69,80.69 L155.63,81.04 L156.56,81.39 L157.50,81.75 L158.44,82.10 L159.37,82.44 L160.31,82.79 L161.25,83.14 L162.19,83.49 L163.13,83.83 L164.06,84.18 L165.00,84.52 L165.94,84.86 L166.88,85.21 L167.82,85.55 L168.76,85.89 L169.70,86.23 L170.64,86.57 L171.58,86.91 L172.52,87.25 L173.46,87.59 L174.40,87.93 L175.35,88.27 L176.29,88.61 L177.23,88.95 L178.17,89.28 L179.11,89.62 L180.05,89.96 L180.99,90.30 L181.93,90.63 L182.87,90.97 L183.82,91.31 L184.76,91.65 L185.70,91.99 L186.64,92.32 L187.58,92.66 L188.52,93.00 L189.46,93.34 L190.40,93.68 L191.34,94.02 L192.28,94.36 L193.22,94.70 L194.16,95.04 L195.10,95.39 L196.04,95.73 L196.98,96.07 L197.92,96.41 L198.86,96.76 L199.80,97.10 L200.74,97.45 L201.68,97.79 L202.62,98.14 L203.55,98.48 L204.49,98.83 L205.43,99.18 L206.37,99.52 L207.30,99.87 L208.24,100.22 L209.18,100.57 L210.12,100.92 L211.05,101.27 L211.99,101.62 L212.92,101.97 L213.86,102.32 L214.80,102.68 L215.73,103.03 L216.67,103.39 L217.60,103.74 L218.54,104.10 L219.47,104.45 L220.40,104.81 L221.34,105.17 L222.27,105.53 L223.21,105.88 L224.14,106.24 L225.07,106.61 L226.00,106.97 L226.94,107.33 L227.87,107.69 L228.80,108.06 L229.73,108.42 L230.66,108.79 L231.59,109.15 L232.52,109.52 L233.45,109.89 L234.38,110.26 L235.31,110.63 L236.24,111.00 L237.17,111.37 L238.09,111.74 L239.02,112.11 L239.95,112.49 L240.88,112.86 L241.80,113.24 L242.73,113.62 L243.66,113.99 L244.58,114.37 L245.51,114.75 L246.43,115.13 L247.35,115.52 L248.28,115.90 L249.20,116.28 L250.13,116.67 L251.05,117.05 L251.97,117.44 L252.89,117.83 L253.81,118.22 L254.73,118.61 L255.65,119.00 L256.57,119.39 L257.49,119.78 L258.41,120.18 L259.33,120.57 L260.25,120.97 L261.17,121.37 L262.08,121.77 L263.00,122.17 L263.91,122.57 L264.83,122.97 L265.74,123.38 L266.66,123.78 L267.57,124.19 L268.49,124.59 L269.40,125.00 L270.31,125.41 L271.22,125.82 L272.13,126.24 L273.04,126.65 L273.95,127.06 L274.86,127.48 L275.77,127.90 L276.68,128.32 L277.59,128.74 L278.49,129.16 L279.40,129.58 L280.31,130.00 L281.21,130.43 L282.12,130.86 L283.02,131.28 L283.92,131.71 L284.83,132.14 L285.73,132.58 L286.63,133.01 L287.53,133.45 L288.43,133.88 L289.33,134.32 L290.23,134.76 L291.12,135.20 L292.02,135.64 L292.92,136.08 L293.81,136.53 L294.71,136.98 L295.60,137.42 L296.50,137.87 L297.39,138.32 L298.28,138.78 L299.17,139.23 L300.06,139.68 L300.95,140.14 L301.84,140.60 L302.73,141.06 L303.62,141.52 L304.50,141.98 L305.39,142.44 L306.28,142.91 L307.16,143.37 L308.04,143.84 L308.93,144.31 L309.81,144.78 L310.69,145.25 L311.57,145.73 L312.45,146.20 L313.33,146.68 L314.21,147.15 L315.09,147.63 L315.97,148.11 L316.84,148.59 L317.72,149.08 L318.59,149.56 L319.47,150.05 L320.34,150.53 L321.21,151.02 L322.09,151.51 L322.96,152.00 L323.83,152.50 L324.70,152.99 L325.57,153.48 L326.43,153.98 L327.30,154.48 L328.17,154.98 L329.03,155.48 L329.90,155.98 L330.76,156.48 L331.63,156.99 L332.49,157.49 L333.35,158.00 L334.21,158.51 L335.07,159.02 L335.93,159.53 L336.79,160.04 L337.65,160.55 L338.51,161.07 L339.36,161.58 L340.22,162.10 L341.07,162.62 L341.93,163.14 L342.78,163.66 L343.63,164.18 L344.49,164.71 L345.34,165.23 L346.19,165.76 L347.04,166.28 L347.89,166.81 L348.73,167.34 L349.58,167.87 L350.43,168.41 L351.27,168.94 L352.12,169.48 L352.96,170.01 L353.81,170.55 L354.65,171.09 L355.49,171.63 L356.33,172.17 L357.17,172.71 L358.01,173.26 L358.85,173.80 L359.69,174.35 L360.52,174.89 L361.36,175.44 L362.19,175.99 L363.03,176.54 L363.86,177.10 L364.70,177.65 L365.53,178.21 L366.36,178.76 L367.19,179.32 L368.02,179.88 L368.85,180.44 L369.67,181.00 L370.50,181.56 L371.33,182.12 L372.15,182.69 L372.98,183.25 L373.80,183.82 L374.63,184.39 L375.45,184.96 L376.27,185.53 L377.09,186.10 L377.91,186.67 L378.73,187.25 L379.55,187.82 L380.36,188.40 L381.18,188.97 L382.00,189.55 L382.81,190.13 L383.62,190.71 L384.44,191.30 L385.25,191.88 L386.06,192.46 L386.87,193.05 L387.68,193.64 L388.49,194.22 L389.30,194.81 L390.11,195.40 L390.91,195.99 L391.72,196.59 L392.52,197.18 L393.33,197.77 L394.13,198.37 L394.93,198.97 L395.73,199.57 L396.53,200.17 L397.33,200.77 L398.13,201.37 L398.93,201.97 L399.73,202.57 L400.52,203.18 L401.32,203.79 L402.11,204.39 L402.91,205.00 L403.70,205.61 L404.49,206.22 L405.28,206.83 L406.07,207.45 L406.86,208.06 L407.65,208.67 L408.44,209.29 L409.22,209.91 L410.01,210.53 L410.80,211.15 L411.58,211.77 L412.36,212.39 L413.15,213.01 L413.93,213.63 L414.71,214.26 L415.49,214.89 L416.27,215.51 L417.04,216.14 L417.82,216.77 L418.60,217.40 L419.37,218.03 L420.15,218.66 L420.92,219.30 L421.69,219.93 L422.47,220.57 L423.24,221.21 L424.01,221.84 L424.78,222.48 L425.54,223.12 L426.31,223.76 L427.08,224.41 L427.84,225.05 L428.61,225.69 L429.37,226.34 L430.14,226.99 L430.90,227.63 L431.66,228.28 L432.42,228.93 L433.18,229.58 L433.94,230.23 L434.69,230.89 L435.45,231.54 L436.21,232.20 L436.96,232.85 L437.72,233.51 L438.47,234.17 L439.22,234.83 L439.97,235.49 L440.72,236.15 L441.47,236.81 L442.22,237.47 L442.97,238.14 L443.71,238.80 L444.46,239.47 L445.20,240.14 L445.95,240.80 L446.69,241.47 L447.43,242.14 L448.17,242.82 L448.91,243.49 L449.65,244.16 L450.39,244.84 L451.13,245.51 L451.86,246.19 L452.60,246.87 L453.33,247.55 L454.07,248.23 L454.80,248.91 L455.53,249.59 L456.26,250.27 L456.99,250.95 L457.72,251.64 L458.45,252.32 L459.17,253.01 L459.90,253.70 L460.63,254.39 L461.35,255.08 L462.07,255.77 L462.79,256.46 L463.52,257.15 L464.24,257.85 L464.95,258.54 L465.67,259.24 L466.39,259.94 L467.11,260.63 L467.82,261.33 L468.54,262.03 L469.25,262.73 L469.96,263.43 L470.67,264.14 L471.38,264.84 L472.09,265.55 L472.80,266.25 L473.51,266.96 L474.21,267.67 L474.92,268.38 L475.62,269.09 L476.33,269.80 L477.03,270.51 L477.73,271.22 L478.29,271.79" fill="none" stroke="#c8c000" stroke-width="4.0" stroke-linejoin="round" stroke-linecap="butt"/>
<text x="82.3" y="268.5" class="tag">(a)</text>
<text transform="translate(22.3,154.2) rotate(-90)" text-anchor="middle" class="axt">Cell Potential (V)</text>
<text x="208.6" y="333.2" class="axt">Capacity (mAh/g<tspan dy="4.5" font-size="12.5">si</tspan><tspan dy="-4.5">)</tspan></text>
<line x1="582.5" y1="7.5" x2="1019" y2="7.5" stroke="#e4e4e4" stroke-width="1"/>
<line x1="582.5" y1="295.5" x2="1019" y2="295.5" stroke="#e0e0e0" stroke-width="1"/>
<line x1="582.5" y1="7.5" x2="582.5" y2="296.5" stroke="#a0a0a0" stroke-width="1"/>
<line x1="587.50" y1="7.5" x2="587.50" y2="295.5" stroke="#aaa" stroke-width="1" stroke-dasharray="1.5,1.5"/>
<line x1="644.40" y1="7.5" x2="644.40" y2="295.5" stroke="#bbb" stroke-width="1" stroke-dasharray="1.5,1.5"/>
<line x1="701.30" y1="7.5" x2="701.30" y2="295.5" stroke="#e0e0e0" stroke-width="1" stroke-dasharray="1.5,1.5"/>
<line x1="758.20" y1="7.5" x2="758.20" y2="295.5" stroke="#888" stroke-width="1" stroke-dasharray="1.5,1.5"/>
<line x1="815.10" y1="7.5" x2="815.10" y2="295.5" stroke="#e0e0e0" stroke-width="1" stroke-dasharray="1.5,1.5"/>
<line x1="872.00" y1="7.5" x2="872.00" y2="295.5" stroke="#888" stroke-width="1" stroke-dasharray="1.5,1.5"/>
<line x1="928.90" y1="7.5" x2="928.90" y2="295.5" stroke="#e0e0e0" stroke-width="1" stroke-dasharray="1.5,1.5"/>
<line x1="985.80" y1="7.5" x2="985.80" y2="295.5" stroke="#aaa" stroke-width="1" stroke-dasharray="1.5,1.5"/>
<line x1="582.5" y1="10.00" x2="1019" y2="10.00" stroke="#e0e0e0" stroke-width="1" stroke-dasharray="1.5,1.5"/>
<line x1="582.5" y1="52.95" x2="1019" y2="52.95" stroke="#e0e0e0" stroke-width="1" stroke-dasharray="1.5,1.5"/>
<line x1="582.5" y1="95.90" x2="1019" y2="95.90" stroke="#e0e0e0" stroke-width="1" stroke-dasharray="1.5,1.5"/>
<line x1="582.5" y1="138.85" x2="1019" y2="138.85" stroke="#aaa" stroke-width="1" stroke-dasharray="1.5,1.5"/>
<line x1="582.5" y1="181.80" x2="1019" y2="181.80" stroke="#e0e0e0" stroke-width="1" stroke-dasharray="1.5,1.5"/>
<line x1="582.5" y1="224.75" x2="1019" y2="224.75" stroke="#e0e0e0" stroke-width="1" stroke-dasharray="1.5,1.5"/>
<line x1="582.5" y1="267.70" x2="1019" y2="267.70" stroke="#aaa" stroke-width="1" stroke-dasharray="1.5,1.5"/>
<text x="575.7" y="19.60" class="tk" text-anchor="end">4</text>
<text x="575.7" y="61.23" class="tk" text-anchor="end">3.8</text>
<text x="575.7" y="102.86" class="tk" text-anchor="end">3.6</text>
<text x="575.7" y="144.49" class="tk" text-anchor="end">3.4</text>
<text x="575.7" y="186.12" class="tk" text-anchor="end">3.2</text>
<text x="575.7" y="227.75" class="tk" text-anchor="end">3</text>
<text x="575.7" y="269.38" class="tk" text-anchor="end">2.8</text>
<text x="587.50" y="316.5" class="tk" text-anchor="middle">0</text>
<text x="644.40" y="316.5" class="tk" text-anchor="middle">500</text>
<text x="701.30" y="316.5" class="tk" text-anchor="middle">1000</text>
<text x="758.20" y="316.5" class="tk" text-anchor="middle">1500</text>
<text x="815.10" y="316.5" class="tk" text-anchor="middle">2000</text>
<text x="872.00" y="316.5" class="tk" text-anchor="middle">2500</text>
<text x="928.90" y="316.5" class="tk" text-anchor="middle">3000</text>
<text x="985.80" y="316.5" class="tk" text-anchor="middle">3500</text>
<text x="693.0" y="32.2" class="ttl">With shrinkage of Si-electrode</text>
<line x1="821" y1="58.7" x2="852" y2="58.7" stroke="#0000ff" stroke-width="3.5"/>
<line x1="821" y1="78.1" x2="852" y2="78.1" stroke="#008800" stroke-width="3.5"/>
<line x1="821" y1="97.5" x2="852" y2="97.5" stroke="#ff0000" stroke-width="3.5"/>
<line x1="924" y1="58.7" x2="955" y2="58.7" stroke="#10bcbc" stroke-width="3.5"/>
<line x1="924" y1="78.1" x2="955" y2="78.1" stroke="#e000e0" stroke-width="3.5"/>
<line x1="924" y1="97.5" x2="955" y2="97.5" stroke="#c8c000" stroke-width="3.5"/>
<text x="860.2" y="65.10000000000001" class="lg">30 µm</text>
<text x="860.2" y="84.5" class="lg">20 µm</text>
<text x="860.2" y="103.9" class="lg">10 µm</text>
<text x="966.4000000000001" y="65.10000000000001" class="lg">5 µm</text>
<text x="966.4000000000001" y="84.5" class="lg">2 µm</text>
<text x="966.4000000000001" y="103.9" class="lg">1 µm</text>
<path d="M587.40,18.20 L595.50,52.00 L605.30,70.50 L605.96,71.25 L606.63,71.99 L607.32,72.72 L608.02,73.44 L608.73,74.14 L609.45,74.84 L610.18,75.52 L610.92,76.19 L611.67,76.85 L612.43,77.50 L613.19,78.14 L613.97,78.77 L614.76,79.39 L615.55,80.00 L616.35,80.59 L617.16,81.18 L617.98,81.76 L618.80,82.33 L619.63,82.88 L620.47,83.43 L621.31,83.97 L622.16,84.50 L623.01,85.03 L623.87,85.54 L624.73,86.05 L625.59,86.55 L626.46,87.04 L627.34,87.53 L628.21,88.01 L629.10,88.48 L629.98,88.95 L630.87,89.42 L631.75,89.87 L632.65,90.33 L633.54,90.78 L634.44,91.22 L635.33,91.66 L636.23,92.10 L637.13,92.53 L638.03,92.97 L638.94,93.40 L639.84,93.82 L640.75,94.25 L641.65,94.68 L642.56,95.10 L643.46,95.52 L644.37,95.95 L645.27,96.37 L646.18,96.80 L647.08,97.22 L647.99,97.64 L648.90,98.07 L649.80,98.49 L650.71,98.92 L651.61,99.35 L652.51,99.77 L653.42,100.20 L654.32,100.63 L655.22,101.06 L656.12,101.50 L657.02,101.93 L657.92,102.37 L658.82,102.81 L659.72,103.25 L660.62,103.69 L661.51,104.13 L662.41,104.58 L663.30,105.03 L664.20,105.48 L665.09,105.93 L665.98,106.39 L666.86,106.85 L667.75,107.31 L668.64,107.77 L669.52,108.24 L670.40,108.72 L671.28,109.19 L672.16,109.67 L673.03,110.15 L673.91,110.64 L674.78,111.13 L675.65,111.62 L676.52,112.12 L677.38,112.63 L678.24,113.13 L679.10,113.65 L679.96,114.16 L680.81,114.68 L681.66,115.21 L682.51,115.74 L683.35,116.28 L684.19,116.82 L685.03,117.36 L685.86,117.92 L686.69,118.47 L687.52,119.04 L688.34,119.60 L689.16,120.18 L689.98,120.76 L690.79,121.34 L691.59,121.94 L692.40,122.53 L693.19,123.14 L693.99,123.75 L694.77,124.36 L695.56,124.98 L696.34,125.61 L697.11,126.24 L697.88,126.88 L698.65,127.52 L699.41,128.17 L700.16,128.83 L700.91,129.49 L701.66,130.16 L702.40,130.83 L703.14,131.51 L703.87,132.19 L704.59,132.88 L705.31,133.57 L706.03,134.27 L706.74,134.97 L707.44,135.68 L708.14,136.40 L708.83,137.12 L709.52,137.85 L710.20,138.58 L710.88,139.31 L711.55,140.05 L712.22,140.80 L712.87,141.55 L713.53,142.31 L714.18,143.07 L714.82,143.84 L715.45,144.61 L716.08,145.39 L716.71,146.17 L717.32,146.96 L717.93,147.75 L718.54,148.54 L719.14,149.35 L719.73,150.15 L720.32,150.96 L720.90,151.78 L721.47,152.59 L722.04,153.42 L722.60,154.24 L723.16,155.07 L723.71,155.91 L724.25,156.75 L724.79,157.59 L725.33,158.44 L725.86,159.28 L726.38,160.14 L726.90,160.99 L727.41,161.85 L727.91,162.71 L728.42,163.58 L728.91,164.45 L729.40,165.32 L729.89,166.19 L730.37,167.07 L730.85,167.95 L731.32,168.83 L731.78,169.71 L732.25,170.60 L732.71,171.49 L733.16,172.38 L733.61,173.27 L734.05,174.17 L734.49,175.07 L734.93,175.97 L735.36,176.87 L735.79,177.77 L736.21,178.68 L736.64,179.59 L737.05,180.49 L737.47,181.41 L737.88,182.32 L738.28,183.23 L738.68,184.15 L739.08,185.06 L739.48,185.98 L739.87,186.90 L740.27,187.82 L740.65,188.74 L741.04,189.67 L741.42,190.59 L741.80,191.52 L742.18,192.44 L742.55,193.37 L742.92,194.30 L743.29,195.23 L743.66,196.16 L744.02,197.09 L744.39,198.02 L744.75,198.95 L745.11,199.89 L745.46,200.82 L745.82,201.75 L746.17,202.69 L746.52,203.63 L746.87,204.56 L747.22,205.50 L747.57,206.44 L747.92,207.37 L748.26,208.31 L748.61,209.25 L748.95,210.19 L749.29,211.13 L749.64,212.07 L749.98,213.01 L750.32,213.95 L750.66,214.89 L750.99,215.83 L751.33,216.77 L751.67,217.71 L752.01,218.66 L752.35,219.60 L752.68,220.54 L753.02,221.48 L753.36,222.42 L753.70,223.36 L754.04,224.30 L754.37,225.24 L754.71,226.19 L755.05,227.13 L755.39,228.07 L755.73,229.01 L756.07,229.95 L756.41,230.89 L756.76,231.83 L757.10,232.77 L757.44,233.70 L757.79,234.64 L758.14,235.58 L758.48,236.52 L758.83,237.46 L759.19,238.39 L759.54,239.33 L759.89,240.26 L760.25,241.20 L760.61,242.13 L760.96,243.06 L761.33,244.00 L761.69,244.93 L762.05,245.86 L762.42,246.79 L762.79,247.72 L763.17,248.65 L763.54,249.57 L763.92,250.50 L764.30,251.42 L764.68,252.35 L765.07,253.27 L765.45,254.19 L765.85,255.11 L766.24,256.03 L766.64,256.95 L767.04,257.87 L767.44,258.78 L767.85,259.69 L768.26,260.60 L768.68,261.51 L769.09,262.42 L769.52,263.33 L769.94,264.23 L770.37,265.14 L770.81,266.04 L771.24,266.94 L771.69,267.83 L772.13,268.73 L772.58,269.62 L773.04,270.51 L773.50,271.40 L773.96,272.29 L774.43,273.17 L774.90,274.05 L775.38,274.93 L775.87,275.80 L776.35,276.68 L776.85,277.55 L777.35,278.41 L777.85,279.28 L777.91,279.38" fill="none" stroke="#0000ff" stroke-width="4.0" stroke-linejoin="round" stroke-linecap="butt"/>
<path d="M587.40,18.20 L587.74,19.14 L588.08,20.08 L588.41,21.02 L588.74,21.97 L589.07,22.92 L589.39,23.86 L589.70,24.81 L590.02,25.76 L590.33,26.71 L590.64,27.66 L590.95,28.61 L591.25,29.57 L591.56,30.52 L591.87,31.47 L592.17,32.42 L592.48,33.37 L592.79,34.32 L593.10,35.27 L593.41,36.22 L593.73,37.17 L594.05,38.12 L594.37,39.07 L594.69,40.01 L595.02,40.96 L595.35,41.90 L595.69,42.84 L596.03,43.78 L596.38,44.72 L596.73,45.66 L597.09,46.59 L597.46,47.52 L597.83,48.45 L598.21,49.37 L598.60,50.29 L599.00,51.21 L599.40,52.13 L599.82,53.04 L600.24,53.94 L600.68,54.84 L601.12,55.74 L601.58,56.63 L602.05,57.51 L602.53,58.39 L603.02,59.26 L603.53,60.12 L604.05,60.97 L604.58,61.82 L605.13,62.66 L605.69,63.48 L606.27,64.30 L606.86,65.10 L607.48,65.89 L608.10,66.67 L608.75,67.43 L609.41,68.18 L610.09,68.92 L610.79,69.64 L611.50,70.34 L612.23,71.02 L612.98,71.69 L613.74,72.33 L614.52,72.96 L615.31,73.57 L616.12,74.16 L616.94,74.72 L617.78,75.27 L618.63,75.80 L619.49,76.30 L620.37,76.78 L621.26,77.25 L622.15,77.70 L623.05,78.13 L623.96,78.54 L624.88,78.94 L625.80,79.32 L626.73,79.70 L627.66,80.06 L628.60,80.41 L629.54,80.75 L630.48,81.08 L631.43,81.41 L632.38,81.73 L633.33,82.04 L634.28,82.35 L635.23,82.66 L636.18,82.96 L637.13,83.26 L638.09,83.56 L639.04,83.86 L639.99,84.17 L640.95,84.47 L641.90,84.78 L642.85,85.10 L643.80,85.41 L644.74,85.74 L645.69,86.07 L646.63,86.40 L647.57,86.75 L648.50,87.09 L649.44,87.45 L650.37,87.81 L651.30,88.17 L652.23,88.54 L653.16,88.91 L654.09,89.28 L655.02,89.66 L655.94,90.05 L656.86,90.43 L657.78,90.82 L658.70,91.21 L659.62,91.61 L660.54,92.00 L661.46,92.40 L662.38,92.80 L663.29,93.19 L664.21,93.59 L665.13,93.99 L666.04,94.39 L666.96,94.79 L667.88,95.19 L668.79,95.59 L669.71,95.99 L670.63,96.39 L671.55,96.78 L672.47,97.17 L673.39,97.56 L674.31,97.95 L675.23,98.34 L676.16,98.72 L677.08,99.10 L678.01,99.47 L678.94,99.84 L679.87,100.21 L680.80,100.57 L681.74,100.92 L682.67,101.27 L683.61,101.62 L684.55,101.96 L685.49,102.30 L686.44,102.63 L687.38,102.96 L688.32,103.29 L689.27,103.62 L690.22,103.94 L691.16,104.27 L692.11,104.59 L693.05,104.91 L694.00,105.24 L694.95,105.56 L695.89,105.89 L696.84,106.22 L697.78,106.55 L698.72,106.88 L699.67,107.21 L700.61,107.55 L701.54,107.90 L702.48,108.24 L703.42,108.60 L704.35,108.95 L705.28,109.32 L706.22,109.68 L707.14,110.05 L708.07,110.43 L709.00,110.80 L709.92,111.19 L710.84,111.57 L711.76,111.97 L712.68,112.36 L713.60,112.76 L714.51,113.17 L715.42,113.58 L716.34,113.99 L717.24,114.41 L718.15,114.83 L719.05,115.26 L719.96,115.69 L720.86,116.12 L721.76,116.56 L722.65,117.01 L723.55,117.45 L724.44,117.91 L725.33,118.36 L726.21,118.83 L727.10,119.29 L727.98,119.76 L728.86,120.23 L729.74,120.71 L730.62,121.20 L731.49,121.68 L732.36,122.17 L733.23,122.67 L734.10,123.17 L734.96,123.67 L735.82,124.18 L736.68,124.70 L737.53,125.21 L738.39,125.73 L739.24,126.26 L740.09,126.79 L740.93,127.32 L741.77,127.86 L742.61,128.41 L743.45,128.95 L744.29,129.50 L745.12,130.06 L745.94,130.62 L746.77,131.18 L747.59,131.75 L748.41,132.33 L749.23,132.90 L750.04,133.48 L750.85,134.07 L751.66,134.66 L752.47,135.25 L753.27,135.85 L754.06,136.46 L754.86,137.06 L755.65,137.67 L756.44,138.29 L757.22,138.91 L758.00,139.53 L758.78,140.16 L759.56,140.79 L760.33,141.43 L761.10,142.07 L761.86,142.72 L762.62,143.37 L763.38,144.02 L764.13,144.68 L764.88,145.34 L765.62,146.01 L766.37,146.68 L767.10,147.35 L767.84,148.03 L768.57,148.72 L769.29,149.40 L770.02,150.09 L770.73,150.79 L771.45,151.49 L772.16,152.19 L772.86,152.90 L773.57,153.61 L774.26,154.33 L774.96,155.05 L775.65,155.78 L776.33,156.51 L777.01,157.24 L777.69,157.98 L778.36,158.72 L779.02,159.46 L779.69,160.21 L780.34,160.97 L781.00,161.72 L781.65,162.48 L782.29,163.25 L782.93,164.02 L783.56,164.79 L784.19,165.57 L784.81,166.35 L785.43,167.14 L786.05,167.93 L786.66,168.72 L787.26,169.51 L787.87,170.31 L788.46,171.12 L789.05,171.92 L789.64,172.73 L790.23,173.54 L790.80,174.36 L791.38,175.18 L791.95,176.00 L792.52,176.82 L793.08,177.65 L793.64,178.48 L794.19,179.31 L794.74,180.14 L795.29,180.98 L795.83,181.82 L796.37,182.66 L796.91,183.51 L797.44,184.35 L797.97,185.20 L798.50,186.05 L799.02,186.90 L799.54,187.76 L800.06,188.61 L800.57,189.47 L801.08,190.33 L801.59,191.19 L802.10,192.05 L802.60,192.92 L803.10,193.79 L803.60,194.65 L804.09,195.52 L804.58,196.39 L805.07,197.26 L805.56,198.14 L806.05,199.01 L806.53,199.89 L807.01,200.76 L807.49,201.64 L807.97,202.52 L808.44,203.40 L808.91,204.28 L809.39,205.16 L809.86,206.05 L810.33,206.93 L810.79,207.81 L811.26,208.70 L811.72,209.58 L812.19,210.47 L812.65,211.36 L813.11,212.25 L813.57,213.13 L814.03,214.02 L814.48,214.91 L814.94,215.80 L815.40,216.69 L815.85,217.58 L816.31,218.47 L816.76,219.36 L817.22,220.25 L817.67,221.14 L818.12,222.03 L818.58,222.93 L819.03,223.82 L819.48,224.71 L819.94,225.60 L820.39,226.49 L820.84,227.38 L821.30,228.28 L821.75,229.17 L822.20,230.06 L822.66,230.95 L823.11,231.84 L823.57,232.73 L824.02,233.62 L824.48,234.51 L824.94,235.40 L825.40,236.29 L825.86,237.17 L826.32,238.06 L826.78,238.95 L827.24,239.84 L827.71,240.72 L828.17,241.61 L828.64,242.49 L829.11,243.37 L829.58,244.26 L830.05,245.14 L830.52,246.02 L831.00,246.90 L831.47,247.78 L831.95,248.66 L832.43,249.53 L832.91,250.41 L833.40,251.28 L833.89,252.16 L834.38,253.03 L834.87,253.90 L835.36,254.77 L835.86,255.64 L836.36,256.50 L836.86,257.37 L837.36,258.23 L837.87,259.09 L838.38,259.95 L838.90,260.81 L839.41,261.67 L839.93,262.52 L840.45,263.38 L840.98,264.23 L841.51,265.07 L842.04,265.92 L842.58,266.77 L843.12,267.61 L843.66,268.45 L844.21,269.28 L844.76,270.12 L845.31,270.95 L845.87,271.78 L846.43,272.61 L847.00,273.43 L847.57,274.25 L848.15,275.07 L848.72,275.89 L849.31,276.70 L849.89,277.51 L850.49,278.31 L851.08,279.12 L851.68,279.92 L852.29,280.71 L852.90,281.50 L853.51,282.29 L854.13,283.08 L854.76,283.86 L855.39,284.64 L856.02,285.41 L856.66,286.18 L857.30,286.94 L857.95,287.70 L858.61,288.46 L859.27,289.21 L859.69,289.70" fill="none" stroke="#008800" stroke-width="4.0" stroke-linejoin="round" stroke-linecap="butt"/>
<path d="M587.40,18.20 L587.71,19.15 L588.02,20.10 L588.34,21.05 L588.65,22.00 L588.97,22.94 L589.29,23.89 L589.61,24.84 L589.94,25.78 L590.27,26.73 L590.60,27.67 L590.94,28.61 L591.28,29.55 L591.63,30.49 L591.98,31.43 L592.33,32.36 L592.69,33.29 L593.06,34.22 L593.43,35.15 L593.81,36.08 L594.20,37.00 L594.59,37.92 L594.99,38.84 L595.39,39.75 L595.81,40.66 L596.23,41.57 L596.66,42.47 L597.10,43.37 L597.55,44.27 L598.00,45.15 L598.47,46.04 L598.94,46.92 L599.43,47.79 L599.93,48.66 L600.43,49.52 L600.95,50.38 L601.48,51.23 L602.02,52.07 L602.58,52.90 L603.14,53.72 L603.72,54.54 L604.31,55.35 L604.92,56.14 L605.53,56.93 L606.17,57.71 L606.81,58.47 L607.47,59.22 L608.14,59.96 L608.83,60.69 L609.53,61.40 L610.24,62.10 L610.97,62.79 L611.71,63.46 L612.46,64.13 L613.22,64.77 L613.99,65.41 L614.77,66.03 L615.56,66.65 L616.36,67.25 L617.17,67.84 L617.99,68.42 L618.81,68.98 L619.64,69.54 L620.47,70.09 L621.31,70.63 L622.16,71.17 L623.01,71.69 L623.87,72.21 L624.73,72.72 L625.59,73.22 L626.46,73.72 L627.33,74.21 L628.21,74.69 L629.08,75.17 L629.96,75.64 L630.85,76.11 L631.74,76.57 L632.63,77.03 L633.52,77.48 L634.41,77.93 L635.31,78.37 L636.21,78.80 L637.11,79.23 L638.02,79.66 L638.92,80.08 L639.83,80.50 L640.75,80.91 L641.66,81.32 L642.57,81.72 L643.49,82.12 L644.41,82.51 L645.33,82.90 L646.26,83.28 L647.18,83.66 L648.11,84.04 L649.03,84.41 L649.96,84.78 L650.89,85.15 L651.83,85.51 L652.76,85.87 L653.70,86.22 L654.63,86.57 L655.57,86.92 L656.51,87.27 L657.45,87.61 L658.39,87.94 L659.33,88.28 L660.27,88.61 L661.22,88.94 L662.16,89.27 L663.11,89.59 L664.06,89.91 L665.00,90.23 L665.95,90.55 L666.90,90.86 L667.85,91.18 L668.80,91.49 L669.76,91.79 L670.71,92.10 L671.66,92.40 L672.61,92.71 L673.57,93.01 L674.52,93.30 L675.48,93.60 L676.43,93.90 L677.39,94.19 L678.34,94.48 L679.30,94.77 L680.26,95.06 L681.21,95.35 L682.17,95.64 L683.13,95.93 L684.09,96.21 L685.05,96.50 L686.01,96.78 L686.97,97.06 L687.93,97.34 L688.89,97.62 L689.85,97.90 L690.81,98.18 L691.77,98.46 L692.73,98.74 L693.69,99.02 L694.65,99.30 L695.61,99.57 L696.57,99.85 L697.53,100.13 L698.49,100.40 L699.45,100.68 L700.41,100.95 L701.38,101.23 L702.34,101.51 L703.30,101.78 L704.26,102.06 L705.22,102.34 L706.18,102.61 L707.14,102.89 L708.10,103.17 L709.06,103.44 L710.02,103.72 L710.98,104.00 L711.94,104.28 L712.90,104.56 L713.86,104.84 L714.82,105.12 L715.78,105.41 L716.74,105.69 L717.70,105.97 L718.66,106.26 L719.62,106.55 L720.57,106.83 L721.53,107.12 L722.49,107.41 L723.44,107.71 L724.40,108.00 L725.36,108.29 L726.31,108.59 L727.27,108.89 L728.22,109.19 L729.17,109.49 L730.13,109.79 L731.08,110.09 L732.03,110.40 L732.98,110.71 L733.93,111.02 L734.88,111.33 L735.83,111.65 L736.78,111.96 L737.73,112.28 L738.68,112.61 L739.62,112.93 L740.57,113.26 L741.51,113.58 L742.45,113.92 L743.40,114.25 L744.34,114.59 L745.28,114.93 L746.22,115.27 L747.16,115.61 L748.09,115.96 L749.03,116.31 L749.97,116.67 L750.90,117.03 L751.83,117.39 L752.76,117.75 L753.69,118.12 L754.62,118.49 L755.55,118.86 L756.48,119.24 L757.40,119.62 L758.32,120.01 L759.24,120.40 L760.16,120.79 L761.08,121.18 L762.00,121.58 L762.91,121.99 L763.83,122.40 L764.74,122.81 L765.65,123.22 L766.55,123.65 L767.46,124.07 L768.36,124.50 L769.26,124.93 L770.16,125.37 L771.06,125.81 L771.96,126.26 L772.85,126.71 L773.74,127.16 L774.63,127.62 L775.51,128.09 L776.40,128.56 L777.28,129.03 L778.15,129.51 L779.03,129.99 L779.90,130.48 L780.77,130.97 L781.64,131.47 L782.50,131.97 L783.37,132.48 L784.23,132.99 L785.08,133.51 L785.94,134.03 L786.79,134.55 L787.64,135.08 L788.48,135.62 L789.32,136.15 L790.16,136.70 L791.00,137.25 L791.83,137.80 L792.67,138.35 L793.49,138.91 L794.32,139.48 L795.14,140.05 L795.96,140.63 L796.77,141.20 L797.59,141.79 L798.39,142.38 L799.20,142.97 L800.00,143.57 L800.80,144.17 L801.60,144.77 L802.39,145.38 L803.18,146.00 L803.96,146.62 L804.75,147.24 L805.52,147.87 L806.30,148.50 L807.07,149.13 L807.84,149.77 L808.60,150.42 L809.36,151.07 L810.12,151.72 L810.87,152.38 L811.62,153.04 L812.37,153.71 L813.11,154.38 L813.85,155.05 L814.58,155.73 L815.31,156.42 L816.04,157.10 L816.76,157.79 L817.48,158.49 L818.20,159.19 L818.91,159.89 L819.61,160.60 L820.32,161.31 L821.01,162.03 L821.71,162.75 L822.40,163.47 L823.08,164.20 L823.77,164.93 L824.44,165.67 L825.12,166.41 L825.78,167.15 L826.45,167.90 L827.11,168.65 L827.76,169.41 L828.41,170.16 L829.06,170.93 L829.70,171.69 L830.34,172.46 L830.97,173.24 L831.60,174.02 L832.22,174.80 L832.84,175.58 L833.46,176.37 L834.07,177.16 L834.68,177.96 L835.28,178.75 L835.88,179.55 L836.48,180.36 L837.07,181.16 L837.66,181.97 L838.24,182.78 L838.83,183.60 L839.40,184.41 L839.98,185.23 L840.55,186.05 L841.12,186.87 L841.68,187.70 L842.24,188.53 L842.80,189.36 L843.36,190.19 L843.91,191.02 L844.46,191.86 L845.01,192.69 L845.55,193.53 L846.10,194.37 L846.64,195.21 L847.17,196.06 L847.71,196.90 L848.24,197.75 L848.77,198.59 L849.30,199.44 L849.83,200.29 L850.35,201.14 L850.88,202.00 L851.40,202.85 L851.92,203.70 L852.44,204.56 L852.95,205.41 L853.47,206.27 L853.98,207.13 L854.50,207.99 L855.01,208.85 L855.52,209.71 L856.03,210.57 L856.53,211.43 L857.04,212.29 L857.55,213.15 L858.05,214.02 L858.56,214.88 L859.06,215.74 L859.57,216.61 L860.07,217.47 L860.58,218.33 L861.08,219.20 L861.58,220.06 L862.09,220.93 L862.59,221.79 L863.09,222.65 L863.59,223.52 L864.10,224.38 L864.60,225.25 L865.11,226.11 L865.61,226.97 L866.12,227.84 L866.62,228.70 L867.13,229.56 L867.63,230.42 L868.14,231.29 L868.65,232.15 L869.16,233.01 L869.67,233.87 L870.18,234.73 L870.70,235.58 L871.21,236.44 L871.73,237.30 L872.24,238.15 L872.76,239.01 L873.28,239.86 L873.80,240.72 L874.33,241.57 L874.85,242.42 L875.38,243.27 L875.91,244.12 L876.44,244.96 L876.97,245.81 L877.51,246.66 L878.05,247.50 L878.59,248.34 L879.13,249.18 L879.68,250.02 L880.22,250.85 L880.77,251.69 L881.33,252.52 L881.88,253.35 L882.44,254.18 L883.00,255.01 L883.57,255.84 L884.14,256.66 L884.71,257.48 L885.28,258.30 L885.86,259.11 L886.44,259.93 L887.02,260.74 L887.61,261.55 L888.20,262.36 L888.80,263.16 L889.40,263.96 L890.00,264.76 L890.61,265.55 L891.22,266.34 L891.83,267.13 L892.45,267.92 L893.07,268.70 L893.70,269.48 L894.33,270.26 L894.97,271.03 L895.61,271.80 L896.25,272.56 L896.90,273.32 L897.55,274.08 L898.21,274.83 L898.87,275.58 L899.54,276.33 L900.21,277.07 L900.89,277.81 L901.57,278.54 L902.25,279.27 L902.94,279.99 L903.64,280.71 L904.34,281.42 L905.05,282.13 L905.76,282.83 L906.47,283.53 L907.19,284.22 L907.92,284.91 L908.65,285.60 L909.39,286.27 L910.13,286.94 L910.87,287.61 L911.62,288.27 L912.38,288.92 L913.14,289.57 L913.91,290.21 L914.68,290.85 L915.05,291.15" fill="none" stroke="#ff0000" stroke-width="4.0" stroke-linejoin="round" stroke-linecap="butt"/>
<path d="M587.40,18.20 L587.64,19.17 L587.88,20.14 L588.14,21.11 L588.41,22.07 L588.70,23.03 L588.99,23.98 L589.29,24.94 L589.60,25.89 L589.93,26.83 L590.26,27.78 L590.61,28.71 L590.96,29.65 L591.33,30.58 L591.71,31.50 L592.10,32.43 L592.50,33.34 L592.91,34.25 L593.33,35.16 L593.77,36.06 L594.21,36.96 L594.67,37.85 L595.14,38.73 L595.61,39.61 L596.10,40.48 L596.60,41.35 L597.12,42.20 L597.64,43.06 L598.17,43.90 L598.71,44.74 L599.27,45.58 L599.83,46.40 L600.41,47.22 L600.99,48.03 L601.59,48.83 L602.19,49.63 L602.81,50.42 L603.43,51.20 L604.07,51.97 L604.71,52.74 L605.37,53.49 L606.03,54.24 L606.70,54.98 L607.38,55.71 L608.07,56.44 L608.77,57.16 L609.48,57.86 L610.19,58.56 L610.91,59.26 L611.64,59.94 L612.38,60.61 L613.12,61.28 L613.88,61.94 L614.64,62.59 L615.40,63.23 L616.18,63.87 L616.95,64.49 L617.74,65.11 L618.53,65.72 L619.33,66.32 L620.14,66.92 L620.95,67.51 L621.76,68.08 L622.58,68.66 L623.41,69.22 L624.24,69.77 L625.08,70.32 L625.92,70.86 L626.76,71.40 L627.61,71.92 L628.47,72.44 L629.32,72.96 L630.19,73.46 L631.05,73.96 L631.93,74.45 L632.80,74.94 L633.68,75.42 L634.56,75.89 L635.44,76.35 L636.33,76.81 L637.22,77.27 L638.12,77.72 L639.01,78.16 L639.91,78.59 L640.82,79.02 L641.72,79.45 L642.63,79.86 L643.54,80.28 L644.46,80.69 L645.37,81.09 L646.29,81.49 L647.21,81.88 L648.13,82.26 L649.05,82.65 L649.98,83.02 L650.91,83.40 L651.84,83.77 L652.77,84.13 L653.70,84.49 L654.64,84.84 L655.57,85.20 L656.51,85.54 L657.45,85.88 L658.39,86.22 L659.33,86.56 L660.28,86.89 L661.22,87.22 L662.17,87.54 L663.12,87.86 L664.06,88.18 L665.01,88.49 L665.96,88.80 L666.92,89.11 L667.87,89.42 L668.82,89.72 L669.78,90.02 L670.73,90.31 L671.69,90.60 L672.64,90.89 L673.60,91.18 L674.56,91.47 L675.52,91.75 L676.48,92.03 L677.44,92.31 L678.40,92.59 L679.36,92.86 L680.33,93.13 L681.29,93.40 L682.25,93.67 L683.22,93.93 L684.18,94.20 L685.15,94.46 L686.11,94.72 L687.08,94.98 L688.04,95.23 L689.01,95.49 L689.98,95.74 L690.95,95.99 L691.91,96.25 L692.88,96.49 L693.85,96.74 L694.82,96.99 L695.79,97.23 L696.76,97.48 L697.73,97.72 L698.70,97.96 L699.67,98.20 L700.64,98.44 L701.61,98.68 L702.58,98.92 L703.56,99.15 L704.53,99.39 L705.50,99.62 L706.47,99.86 L707.44,100.09 L708.42,100.33 L709.39,100.56 L710.36,100.79 L711.33,101.02 L712.31,101.26 L713.28,101.49 L714.25,101.72 L715.23,101.95 L716.20,102.18 L717.17,102.41 L718.15,102.64 L719.12,102.87 L720.09,103.10 L721.06,103.33 L722.04,103.57 L723.01,103.80 L723.98,104.03 L724.95,104.26 L725.93,104.49 L726.90,104.73 L727.87,104.96 L728.84,105.20 L729.82,105.43 L730.79,105.67 L731.76,105.90 L732.73,106.14 L733.70,106.38 L734.67,106.62 L735.64,106.86 L736.61,107.10 L737.59,107.34 L738.56,107.58 L739.52,107.83 L740.49,108.07 L741.46,108.32 L742.43,108.57 L743.40,108.82 L744.37,109.07 L745.34,109.32 L746.30,109.57 L747.27,109.83 L748.24,110.09 L749.20,110.35 L750.17,110.61 L751.13,110.87 L752.10,111.13 L753.06,111.40 L754.02,111.67 L754.99,111.94 L755.95,112.21 L756.91,112.49 L757.87,112.76 L758.83,113.04 L759.79,113.32 L760.75,113.61 L761.71,113.89 L762.67,114.18 L763.62,114.47 L764.58,114.77 L765.53,115.06 L766.49,115.36 L767.44,115.66 L768.39,115.97 L769.35,116.28 L770.30,116.59 L771.25,116.90 L772.19,117.22 L773.14,117.54 L774.09,117.86 L775.03,118.19 L775.98,118.52 L776.92,118.85 L777.86,119.19 L778.80,119.53 L779.74,119.87 L780.68,120.22 L781.62,120.57 L782.55,120.92 L783.48,121.28 L784.42,121.64 L785.35,122.01 L786.28,122.38 L787.20,122.75 L788.13,123.13 L789.05,123.51 L789.98,123.90 L790.90,124.29 L791.81,124.69 L792.73,125.08 L793.65,125.49 L794.56,125.90 L795.47,126.31 L796.38,126.73 L797.29,127.15 L798.19,127.57 L799.09,128.00 L799.99,128.44 L800.89,128.88 L801.79,129.33 L802.68,129.78 L803.57,130.23 L804.46,130.69 L805.34,131.15 L806.23,131.62 L807.11,132.10 L807.99,132.58 L808.86,133.06 L809.73,133.55 L810.61,134.04 L811.47,134.53 L812.34,135.04 L813.20,135.54 L814.06,136.05 L814.92,136.57 L815.77,137.09 L816.62,137.61 L817.47,138.14 L818.32,138.67 L819.16,139.21 L820.01,139.75 L820.84,140.29 L821.68,140.84 L822.51,141.40 L823.34,141.96 L824.17,142.52 L824.99,143.08 L825.81,143.66 L826.63,144.23 L827.45,144.81 L828.26,145.39 L829.07,145.98 L829.87,146.57 L830.68,147.17 L831.48,147.77 L832.28,148.37 L833.07,148.98 L833.86,149.59 L834.65,150.20 L835.43,150.82 L836.22,151.45 L837.00,152.07 L837.77,152.70 L838.55,153.34 L839.32,153.98 L840.08,154.62 L840.85,155.26 L841.61,155.91 L842.36,156.56 L843.12,157.22 L843.87,157.88 L844.62,158.54 L845.36,159.21 L846.10,159.88 L846.84,160.56 L847.58,161.23 L848.31,161.92 L849.04,162.60 L849.77,163.29 L850.49,163.98 L851.21,164.67 L851.92,165.37 L852.64,166.07 L853.35,166.78 L854.05,167.48 L854.76,168.20 L855.46,168.91 L856.15,169.63 L856.85,170.35 L857.54,171.07 L858.22,171.80 L858.91,172.53 L859.59,173.26 L860.27,174.00 L860.94,174.73 L861.61,175.48 L862.28,176.22 L862.94,176.97 L863.60,177.72 L864.26,178.47 L864.91,179.23 L865.57,179.99 L866.21,180.75 L866.86,181.51 L867.50,182.28 L868.14,183.05 L868.77,183.82 L869.41,184.60 L870.04,185.37 L870.66,186.15 L871.29,186.93 L871.91,187.72 L872.53,188.50 L873.14,189.29 L873.76,190.08 L874.37,190.87 L874.98,191.66 L875.59,192.46 L876.19,193.26 L876.79,194.05 L877.39,194.85 L877.99,195.66 L878.59,196.46 L879.18,197.26 L879.77,198.07 L880.36,198.87 L880.95,199.68 L881.54,200.49 L882.13,201.30 L882.71,202.12 L883.29,202.93 L883.87,203.74 L884.45,204.56 L885.03,205.37 L885.61,206.19 L886.18,207.01 L886.76,207.83 L887.33,208.64 L887.90,209.46 L888.48,210.29 L889.05,211.11 L889.62,211.93 L890.19,212.75 L890.75,213.57 L891.32,214.40 L891.89,215.22 L892.46,216.04 L893.02,216.87 L893.59,217.69 L894.15,218.52 L894.72,219.34 L895.28,220.17 L895.85,220.99 L896.41,221.82 L896.98,222.64 L897.54,223.47 L898.11,224.29 L898.67,225.12 L899.24,225.94 L899.80,226.77 L900.37,227.59 L900.93,228.42 L901.50,229.24 L902.07,230.06 L902.64,230.89 L903.20,231.71 L903.77,232.53 L904.34,233.36 L904.91,234.18 L905.49,235.00 L906.06,235.82 L906.63,236.64 L907.21,237.45 L907.78,238.27 L908.36,239.09 L908.94,239.90 L909.52,240.72 L910.10,241.53 L910.68,242.35 L911.26,243.16 L911.85,243.97 L912.44,244.78 L913.02,245.59 L913.61,246.40 L914.21,247.20 L914.80,248.01 L915.40,248.81 L915.99,249.61 L916.59,250.41 L917.20,251.21 L917.80,252.01 L918.41,252.80 L919.01,253.59 L919.63,254.39 L920.24,255.18 L920.86,255.96 L921.47,256.75 L922.09,257.53 L922.72,258.32 L923.34,259.09 L923.97,259.87 L924.60,260.65 L925.24,261.42 L925.88,262.19 L926.52,262.96 L927.16,263.72 L927.81,264.49 L928.46,265.25 L929.11,266.00 L929.77,266.76 L930.43,267.51 L931.09,268.26 L931.76,269.00 L932.43,269.75 L933.10,270.49 L933.78,271.22 L934.46,271.96 L935.14,272.68 L935.83,273.41 L936.52,274.13 L937.21,274.85 L937.91,275.57 L938.62,276.28 L939.32,276.99 L940.03,277.69 L940.75,278.39 L941.47,279.08 L942.19,279.77 L942.92,280.46 L943.65,281.14 L944.39,281.82 L945.13,282.49 L945.87,283.16 L946.62,283.82 L947.37,284.48 L948.13,285.14 L948.89,285.79 L949.65,286.43 L950.09,286.80" fill="none" stroke="#10bcbc" stroke-width="4.0" stroke-linejoin="round" stroke-linecap="butt"/>
<path d="M587.40,18.20 L587.61,19.18 L587.84,20.15 L588.08,21.12 L588.33,22.09 L588.59,23.06 L588.86,24.02 L589.14,24.98 L589.44,25.93 L589.75,26.88 L590.07,27.83 L590.40,28.77 L590.75,29.71 L591.11,30.65 L591.47,31.58 L591.86,32.50 L592.25,33.42 L592.66,34.33 L593.08,35.24 L593.51,36.14 L593.95,37.04 L594.41,37.93 L594.88,38.81 L595.36,39.69 L595.85,40.56 L596.36,41.42 L596.88,42.28 L597.40,43.12 L597.95,43.97 L598.50,44.80 L599.06,45.62 L599.64,46.44 L600.23,47.25 L600.83,48.05 L601.44,48.84 L602.06,49.63 L602.69,50.40 L603.33,51.17 L603.98,51.93 L604.65,52.68 L605.32,53.42 L606.00,54.15 L606.69,54.87 L607.39,55.58 L608.10,56.29 L608.82,56.98 L609.55,57.67 L610.28,58.35 L611.03,59.02 L611.78,59.68 L612.54,60.33 L613.31,60.97 L614.08,61.60 L614.86,62.22 L615.65,62.84 L616.44,63.45 L617.25,64.04 L618.05,64.63 L618.87,65.21 L619.69,65.79 L620.51,66.35 L621.34,66.91 L622.18,67.45 L623.02,67.99 L623.87,68.53 L624.72,69.05 L625.58,69.57 L626.44,70.08 L627.30,70.58 L628.17,71.08 L629.04,71.56 L629.92,72.04 L630.80,72.52 L631.69,72.98 L632.57,73.44 L633.46,73.90 L634.36,74.35 L635.26,74.79 L636.16,75.22 L637.06,75.65 L637.97,76.07 L638.87,76.49 L639.79,76.90 L640.70,77.31 L641.62,77.71 L642.53,78.10 L643.46,78.49 L644.38,78.88 L645.30,79.26 L646.23,79.64 L647.16,80.01 L648.09,80.37 L649.02,80.73 L649.96,81.09 L650.89,81.44 L651.83,81.79 L652.77,82.14 L653.71,82.48 L654.65,82.82 L655.59,83.15 L656.54,83.48 L657.48,83.81 L658.43,84.13 L659.37,84.45 L660.32,84.77 L661.27,85.08 L662.22,85.39 L663.17,85.70 L664.13,86.00 L665.08,86.31 L666.03,86.61 L666.99,86.91 L667.94,87.20 L668.90,87.49 L669.86,87.79 L670.81,88.08 L671.77,88.36 L672.73,88.65 L673.69,88.93 L674.65,89.21 L675.61,89.50 L676.57,89.78 L677.53,90.05 L678.49,90.33 L679.45,90.61 L680.41,90.88 L681.37,91.16 L682.33,91.43 L683.30,91.70 L684.26,91.97 L685.22,92.24 L686.18,92.51 L687.15,92.78 L688.11,93.05 L689.07,93.32 L690.04,93.59 L691.00,93.85 L691.97,94.12 L692.93,94.38 L693.90,94.65 L694.86,94.91 L695.83,95.17 L696.79,95.43 L697.76,95.69 L698.72,95.95 L699.69,96.21 L700.65,96.47 L701.62,96.73 L702.59,96.98 L703.55,97.24 L704.52,97.49 L705.49,97.75 L706.45,98.00 L707.42,98.25 L708.39,98.51 L709.36,98.76 L710.33,99.01 L711.29,99.26 L712.26,99.51 L713.23,99.76 L714.20,100.00 L715.17,100.25 L716.14,100.50 L717.11,100.74 L718.08,100.99 L719.05,101.23 L720.02,101.48 L720.99,101.72 L721.96,101.96 L722.93,102.20 L723.90,102.44 L724.87,102.68 L725.84,102.92 L726.81,103.16 L727.78,103.40 L728.75,103.64 L729.72,103.88 L730.70,104.11 L731.67,104.35 L732.64,104.58 L733.61,104.82 L734.58,105.05 L735.56,105.29 L736.53,105.52 L737.50,105.75 L738.47,105.99 L739.45,106.22 L740.42,106.45 L741.39,106.68 L742.37,106.91 L743.34,107.14 L744.31,107.37 L745.29,107.60 L746.26,107.82 L747.23,108.05 L748.21,108.28 L749.18,108.50 L750.16,108.73 L751.13,108.96 L752.10,109.18 L753.08,109.41 L754.05,109.63 L755.03,109.86 L756.00,110.08 L756.98,110.30 L757.95,110.53 L758.93,110.75 L759.90,110.98 L760.87,111.20 L761.85,111.43 L762.82,111.65 L763.80,111.88 L764.77,112.11 L765.74,112.33 L766.72,112.56 L767.69,112.79 L768.67,113.02 L769.64,113.25 L770.61,113.48 L771.59,113.71 L772.56,113.94 L773.53,114.17 L774.50,114.41 L775.47,114.64 L776.45,114.88 L777.42,115.12 L778.39,115.36 L779.36,115.60 L780.33,115.84 L781.30,116.08 L782.27,116.33 L783.24,116.58 L784.21,116.83 L785.17,117.08 L786.14,117.33 L787.11,117.58 L788.07,117.84 L789.04,118.10 L790.01,118.36 L790.97,118.62 L791.94,118.89 L792.90,119.15 L793.86,119.42 L794.82,119.69 L795.79,119.97 L796.75,120.25 L797.71,120.53 L798.67,120.81 L799.62,121.09 L800.58,121.38 L801.54,121.67 L802.49,121.97 L803.45,122.26 L804.40,122.56 L805.36,122.87 L806.31,123.17 L807.26,123.48 L808.21,123.80 L809.16,124.11 L810.10,124.43 L811.05,124.76 L812.00,125.08 L812.94,125.42 L813.88,125.75 L814.82,126.09 L815.76,126.43 L816.70,126.78 L817.64,127.13 L818.57,127.48 L819.50,127.84 L820.44,128.21 L821.37,128.58 L822.29,128.95 L823.22,129.32 L824.14,129.71 L825.07,130.09 L825.99,130.48 L826.91,130.88 L827.82,131.28 L828.74,131.68 L829.65,132.09 L830.56,132.51 L831.47,132.93 L832.37,133.35 L833.27,133.78 L834.17,134.22 L835.07,134.66 L835.97,135.11 L836.86,135.56 L837.75,136.02 L838.63,136.48 L839.52,136.95 L840.40,137.42 L841.27,137.90 L842.15,138.39 L843.02,138.88 L843.89,139.38 L844.75,139.88 L845.61,140.39 L846.47,140.91 L847.32,141.43 L848.17,141.95 L849.02,142.49 L849.86,143.03 L850.70,143.57 L851.54,144.12 L852.37,144.67 L853.20,145.23 L854.02,145.79 L854.85,146.36 L855.66,146.94 L856.48,147.52 L857.29,148.10 L858.10,148.69 L858.90,149.29 L859.70,149.88 L860.50,150.49 L861.30,151.09 L862.09,151.71 L862.88,152.32 L863.66,152.94 L864.44,153.57 L865.22,154.19 L865.99,154.83 L866.77,155.46 L867.53,156.10 L868.30,156.75 L869.06,157.40 L869.82,158.05 L870.57,158.70 L871.33,159.36 L872.07,160.03 L872.82,160.69 L873.56,161.36 L874.30,162.03 L875.04,162.71 L875.77,163.39 L876.51,164.07 L877.23,164.76 L877.96,165.44 L878.68,166.13 L879.40,166.83 L880.12,167.53 L880.83,168.23 L881.54,168.93 L882.25,169.63 L882.96,170.34 L883.66,171.05 L884.37,171.76 L885.06,172.48 L885.76,173.20 L886.45,173.92 L887.15,174.64 L887.84,175.36 L888.52,176.09 L889.21,176.82 L889.89,177.55 L890.57,178.28 L891.25,179.02 L891.92,179.76 L892.60,180.50 L893.27,181.24 L893.94,181.98 L894.60,182.72 L895.27,183.47 L895.93,184.22 L896.60,184.97 L897.26,185.72 L897.91,186.47 L898.57,187.23 L899.22,187.98 L899.88,188.74 L900.53,189.50 L901.18,190.26 L901.83,191.02 L902.47,191.78 L903.12,192.55 L903.76,193.31 L904.40,194.08 L905.04,194.85 L905.68,195.62 L906.32,196.39 L906.96,197.16 L907.59,197.93 L908.23,198.70 L908.86,199.48 L909.49,200.25 L910.12,201.03 L910.75,201.81 L911.38,202.58 L912.01,203.36 L912.64,204.14 L913.26,204.92 L913.89,205.70 L914.51,206.48 L915.14,207.26 L915.76,208.05 L916.38,208.83 L917.00,209.61 L917.62,210.40 L918.24,211.18 L918.86,211.97 L919.48,212.75 L920.10,213.54 L920.72,214.32 L921.34,215.11 L921.96,215.89 L922.57,216.68 L923.19,217.47 L923.81,218.26 L924.42,219.04 L925.04,219.83 L925.66,220.62 L926.27,221.41 L926.89,222.19 L927.50,222.98 L928.12,223.77 L928.74,224.56 L929.35,225.34 L929.97,226.13 L930.59,226.92 L931.21,227.70 L931.82,228.49 L932.44,229.28 L933.06,230.06 L933.68,230.85 L934.30,231.63 L934.92,232.42 L935.54,233.20 L936.16,233.99 L936.78,234.77 L937.40,235.55 L938.02,236.33 L938.65,237.12 L939.27,237.90 L939.90,238.68 L940.52,239.46 L941.15,240.24 L941.78,241.02 L942.41,241.79 L943.04,242.57 L943.67,243.35 L944.30,244.12 L944.93,244.89 L945.57,245.67 L946.20,246.44 L946.84,247.21 L947.48,247.98 L948.12,248.75 L948.76,249.52 L949.40,250.28 L950.05,251.05 L950.69,251.81 L951.34,252.57 L951.99,253.33 L952.64,254.09 L953.29,254.85 L953.95,255.61 L954.60,256.36 L955.26,257.12 L955.92,257.87 L956.58,258.62 L957.24,259.37 L957.91,260.11 L958.57,260.86 L959.24,261.60 L959.91,262.34 L960.59,263.08 L961.26,263.82 L961.94,264.55 L962.62,265.29 L963.30,266.02 L963.99,266.75 L964.67,267.48 L965.36,268.20 L966.05,268.92 L966.75,269.64 L967.44,270.36 L968.14,271.08 L968.84,271.79 L969.55,272.50 L970.25,273.21 L970.96,273.91 L971.67,274.62 L972.39,275.32 L973.11,276.01 L973.82,276.71 L974.55,277.40 L975.27,278.09 L976.00,278.77 L976.73,279.46 L977.46,280.14 L978.20,280.81 L978.94,281.49 L979.68,282.16 L980.42,282.83 L981.17,283.49 L981.92,284.15 L982.68,284.81 L983.43,285.46 L984.19,286.11 L984.95,286.76 L985.72,287.40 L986.49,288.04 L986.63,288.16" fill="none" stroke="#e000e0" stroke-width="4.0" stroke-linejoin="round" stroke-linecap="butt"/>
<path d="M587.41,18.19 L587.79,19.11 L588.18,20.04 L588.57,20.96 L588.97,21.87 L589.38,22.78 L589.79,23.70 L590.21,24.60 L590.64,25.51 L591.07,26.41 L591.51,27.31 L591.96,28.20 L592.41,29.10 L592.86,29.99 L593.33,30.87 L593.80,31.75 L594.28,32.63 L594.76,33.51 L595.25,34.38 L595.75,35.25 L596.25,36.11 L596.76,36.97 L597.28,37.83 L597.80,38.68 L598.33,39.53 L598.87,40.37 L599.41,41.21 L599.97,42.04 L600.52,42.87 L601.09,43.70 L601.66,44.52 L602.24,45.33 L602.83,46.14 L603.42,46.95 L604.02,47.75 L604.63,48.54 L605.24,49.33 L605.86,50.11 L606.49,50.89 L607.13,51.66 L607.77,52.43 L608.42,53.19 L609.08,53.94 L609.75,54.69 L610.42,55.43 L611.10,56.16 L611.79,56.89 L612.48,57.61 L613.18,58.32 L613.89,59.02 L614.61,59.72 L615.33,60.41 L616.07,61.09 L616.80,61.77 L617.55,62.43 L618.30,63.09 L619.07,63.74 L619.83,64.38 L620.61,65.01 L621.39,65.63 L622.18,66.24 L622.98,66.85 L623.78,67.44 L624.59,68.03 L625.41,68.60 L626.24,69.17 L627.07,69.72 L627.91,70.26 L628.75,70.80 L629.61,71.32 L630.47,71.83 L631.33,72.34 L632.20,72.83 L633.08,73.30 L633.96,73.77 L634.85,74.23 L635.75,74.68 L636.65,75.11 L637.55,75.54 L638.46,75.95 L639.38,76.36 L640.30,76.76 L641.22,77.14 L642.14,77.52 L643.07,77.89 L644.00,78.25 L644.94,78.61 L645.88,78.95 L646.82,79.29 L647.76,79.62 L648.71,79.95 L649.66,80.26 L650.61,80.57 L651.56,80.88 L652.51,81.18 L653.47,81.47 L654.43,81.76 L655.39,82.04 L656.35,82.32 L657.31,82.59 L658.27,82.86 L659.24,83.12 L660.20,83.38 L661.17,83.64 L662.14,83.89 L663.10,84.15 L664.07,84.39 L665.04,84.64 L666.01,84.88 L666.98,85.12 L667.96,85.36 L668.93,85.60 L669.90,85.83 L670.87,86.06 L671.84,86.30 L672.82,86.53 L673.79,86.76 L674.76,86.99 L675.73,87.22 L676.71,87.46 L677.68,87.69 L678.65,87.92 L679.62,88.16 L680.60,88.39 L681.57,88.63 L682.54,88.86 L683.51,89.10 L684.48,89.35 L685.45,89.59 L686.42,89.83 L687.39,90.08 L688.36,90.32 L689.33,90.57 L690.30,90.82 L691.27,91.07 L692.23,91.32 L693.20,91.57 L694.17,91.83 L695.14,92.08 L696.10,92.34 L697.07,92.59 L698.04,92.85 L699.00,93.11 L699.97,93.36 L700.93,93.62 L701.90,93.88 L702.87,94.14 L703.83,94.40 L704.80,94.67 L705.76,94.93 L706.73,95.19 L707.69,95.45 L708.66,95.71 L709.62,95.98 L710.58,96.24 L711.55,96.51 L712.51,96.77 L713.48,97.03 L714.44,97.30 L715.41,97.56 L716.37,97.82 L717.34,98.09 L718.30,98.35 L719.27,98.61 L720.23,98.88 L721.20,99.14 L722.16,99.40 L723.13,99.67 L724.09,99.93 L725.06,100.19 L726.02,100.45 L726.99,100.71 L727.95,100.97 L728.92,101.23 L729.89,101.48 L730.85,101.74 L731.82,102.00 L732.79,102.25 L733.75,102.51 L734.72,102.76 L735.69,103.01 L736.66,103.26 L737.62,103.51 L738.59,103.76 L739.56,104.01 L740.53,104.26 L741.50,104.50 L742.47,104.74 L743.44,104.99 L744.41,105.23 L745.38,105.47 L746.35,105.70 L747.32,105.94 L748.30,106.18 L749.27,106.41 L750.24,106.64 L751.22,106.87 L752.19,107.10 L753.16,107.32 L754.14,107.55 L755.11,107.77 L756.09,107.99 L757.06,108.21 L758.04,108.43 L759.01,108.65 L759.99,108.87 L760.97,109.09 L761.94,109.31 L762.92,109.52 L763.89,109.74 L764.87,109.95 L765.85,110.17 L766.82,110.38 L767.80,110.60 L768.78,110.81 L769.75,111.03 L770.73,111.24 L771.71,111.46 L772.69,111.67 L773.66,111.89 L774.64,112.10 L775.61,112.32 L776.59,112.53 L777.57,112.75 L778.54,112.97 L779.52,113.19 L780.49,113.41 L781.47,113.63 L782.44,113.85 L783.42,114.08 L784.39,114.30 L785.37,114.53 L786.34,114.76 L787.31,114.99 L788.29,115.22 L789.26,115.45 L790.23,115.69 L791.20,115.92 L792.17,116.16 L793.14,116.41 L794.11,116.65 L795.08,116.89 L796.05,117.14 L797.02,117.39 L797.99,117.65 L798.95,117.90 L799.92,118.16 L800.88,118.42 L801.85,118.69 L802.81,118.95 L803.78,119.22 L804.74,119.50 L805.70,119.78 L806.66,120.06 L807.62,120.34 L808.57,120.63 L809.53,120.92 L810.49,121.21 L811.44,121.51 L812.39,121.82 L813.35,122.12 L814.30,122.43 L815.24,122.75 L816.19,123.07 L817.14,123.39 L818.08,123.72 L819.03,124.06 L819.97,124.39 L820.91,124.73 L821.85,125.08 L822.78,125.43 L823.72,125.78 L824.65,126.14 L825.58,126.50 L826.51,126.87 L827.44,127.24 L828.37,127.62 L829.29,128.00 L830.22,128.38 L831.14,128.77 L832.06,129.16 L832.98,129.56 L833.89,129.96 L834.81,130.36 L835.72,130.77 L836.63,131.18 L837.54,131.60 L838.45,132.02 L839.35,132.45 L840.26,132.88 L841.16,133.31 L842.06,133.75 L842.95,134.19 L843.85,134.63 L844.74,135.08 L845.63,135.54 L846.52,136.00 L847.41,136.46 L848.29,136.92 L849.18,137.39 L850.06,137.86 L850.94,138.34 L851.81,138.82 L852.69,139.31 L853.56,139.80 L854.43,140.29 L855.30,140.78 L856.17,141.28 L857.03,141.79 L857.89,142.30 L858.75,142.81 L859.61,143.32 L860.46,143.84 L861.32,144.36 L862.17,144.89 L863.01,145.42 L863.86,145.95 L864.70,146.49 L865.54,147.03 L866.38,147.58 L867.22,148.13 L868.05,148.68 L868.88,149.23 L869.71,149.79 L870.54,150.35 L871.36,150.92 L872.19,151.49 L873.01,152.06 L873.82,152.64 L874.64,153.22 L875.45,153.80 L876.26,154.39 L877.07,154.98 L877.87,155.57 L878.67,156.17 L879.47,156.77 L880.27,157.37 L881.07,157.98 L881.86,158.59 L882.65,159.20 L883.43,159.82 L884.22,160.44 L885.00,161.06 L885.78,161.69 L886.56,162.32 L887.33,162.95 L888.10,163.59 L888.87,164.23 L889.64,164.87 L890.40,165.52 L891.16,166.17 L891.92,166.82 L892.68,167.47 L893.43,168.13 L894.18,168.79 L894.93,169.46 L895.67,170.12 L896.42,170.79 L897.16,171.46 L897.89,172.14 L898.63,172.82 L899.36,173.50 L900.09,174.19 L900.81,174.87 L901.54,175.56 L902.26,176.26 L902.98,176.95 L903.69,177.65 L904.41,178.35 L905.12,179.06 L905.82,179.76 L906.53,180.47 L907.23,181.19 L907.93,181.90 L908.62,182.62 L909.32,183.34 L910.01,184.06 L910.69,184.79 L911.38,185.52 L912.06,186.25 L912.74,186.98 L913.42,187.72 L914.10,188.45 L914.77,189.19 L915.44,189.93 L916.11,190.68 L916.78,191.42 L917.44,192.17 L918.10,192.92 L918.76,193.67 L919.42,194.42 L920.08,195.18 L920.73,195.94 L921.38,196.69 L922.03,197.45 L922.68,198.21 L923.33,198.98 L923.98,199.74 L924.62,200.50 L925.26,201.27 L925.90,202.04 L926.54,202.81 L927.18,203.58 L927.82,204.35 L928.45,205.12 L929.09,205.89 L929.72,206.67 L930.35,207.44 L930.98,208.22 L931.61,208.99 L932.24,209.77 L932.87,210.55 L933.50,211.33 L934.13,212.11 L934.75,212.89 L935.38,213.67 L936.00,214.45 L936.62,215.23 L937.25,216.01 L937.87,216.79 L938.49,217.58 L939.12,218.36 L939.74,219.14 L940.36,219.93 L940.98,220.71 L941.60,221.49 L942.22,222.28 L942.85,223.06 L943.47,223.84 L944.09,224.63 L944.71,225.41 L945.33,226.19 L945.95,226.98 L946.58,227.76 L947.20,228.54 L947.82,229.33 L948.44,230.11 L949.07,230.89 L949.69,231.67 L950.32,232.45 L950.94,233.23 L951.57,234.01 L952.20,234.79 L952.82,235.57 L953.45,236.34 L954.08,237.12 L954.71,237.90 L955.35,238.67 L955.98,239.45 L956.61,240.22 L957.25,240.99 L957.88,241.76 L958.52,242.53 L959.16,243.30 L959.80,244.07 L960.44,244.84 L961.09,245.60 L961.73,246.37 L962.38,247.13 L963.03,247.89 L963.68,248.65 L964.33,249.41 L964.98,250.17 L965.64,250.92 L966.30,251.68 L966.95,252.43 L967.62,253.18 L968.28,253.93 L968.94,254.67 L969.61,255.42 L970.28,256.16 L970.95,256.90 L971.63,257.64 L972.30,258.38 L972.98,259.11 L973.66,259.84 L974.35,260.57 L975.03,261.30 L975.72,262.02 L976.42,262.75 L977.11,263.47 L977.81,264.18 L978.51,264.90 L979.21,265.61 L979.91,266.32 L980.62,267.03 L981.33,267.73 L982.04,268.43 L982.76,269.13 L983.48,269.82 L984.20,270.51 L984.93,271.20 L985.66,271.89 L986.39,272.57 L987.12,273.24 L987.86,273.92 L988.60,274.59 L989.35,275.26 L990.10,275.92 L990.85,276.58 L991.60,277.24 L992.36,277.89 L993.12,278.54 L993.89,279.18 L994.65,279.82 L995.43,280.46 L996.20,281.09 L996.98,281.72 L997.76,282.34 L998.55,282.96 L999.33,283.58 L1000.13,284.19 L1000.92,284.79 L1001.72,285.40 L1002.52,285.99 L1003.33,286.58 L1004.14,287.17 L1004.95,287.75 L1005.53,288.16" fill="none" stroke="#c8c000" stroke-width="4.0" stroke-linejoin="round" stroke-linecap="butt"/>
<text x="602.3" y="275.5" class="tag">(b)</text>
<text transform="translate(538.2,157.1) rotate(-90)" text-anchor="middle" class="axt">Cell Potential (V)</text>
<text x="724.5" y="336.2" class="axt">Capacity (mAh/g<tspan dy="4.5" font-size="12.5">si</tspan><tspan dy="-4.5">)</tspan></text>
</svg>
</body></html>
